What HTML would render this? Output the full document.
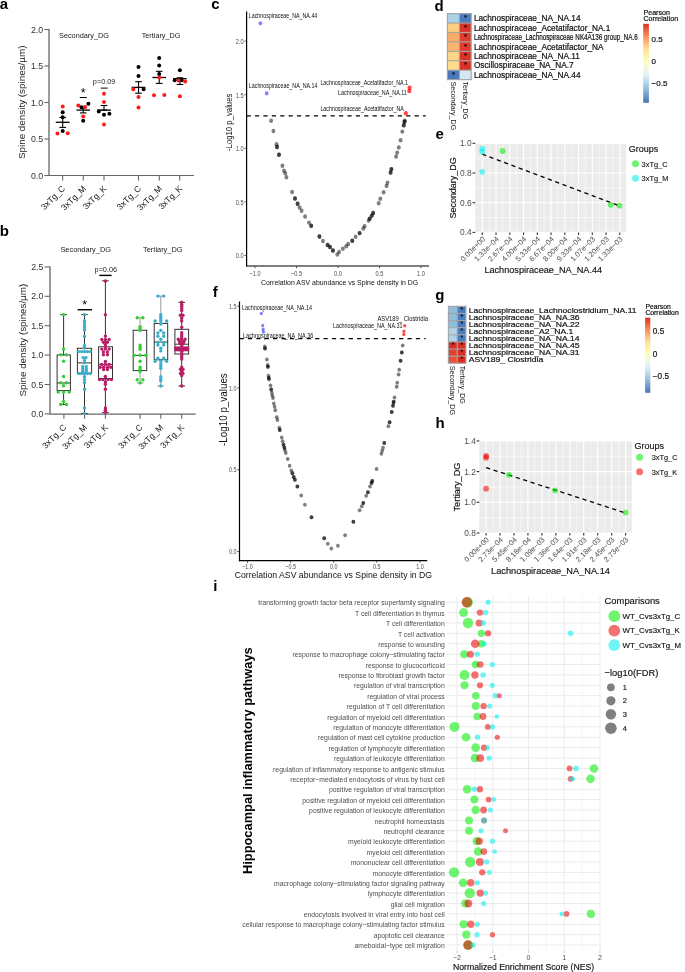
<!DOCTYPE html>
<html><head><meta charset="utf-8"><title>figure</title><style>
html,body{margin:0;padding:0;background:#fff;overflow:hidden;}
svg{display:block;will-change:transform;}
text{font-family:"Liberation Sans",sans-serif;}
</style></head><body>
<svg width="685" height="972" viewBox="0 0 685 972">
<rect width="685" height="972" fill="#fff"/>
<text x="-0.30" y="8.80" font-size="15" font-weight="bold">a</text>
<text x="-0.30" y="235.60" font-size="15" font-weight="bold">b</text>
<text x="211.30" y="8.80" font-size="15" font-weight="bold">c</text>
<text x="434.60" y="10.80" font-size="15" font-weight="bold">d</text>
<text x="435.50" y="139.30" font-size="15" font-weight="bold">e</text>
<text x="212.80" y="296.80" font-size="15" font-weight="bold">f</text>
<text x="435.30" y="299.50" font-size="15" font-weight="bold">g</text>
<text x="435.60" y="427.90" font-size="15" font-weight="bold">h</text>
<text x="213.30" y="591.00" font-size="15" font-weight="bold">i</text>
<line x1="49.00" y1="29.00" x2="49.00" y2="175.00" stroke="#7a7a7a" stroke-width="1.5"/>
<line x1="48.30" y1="175.50" x2="194.00" y2="175.50" stroke="#666666" stroke-width="1.2"/>
<line x1="44.30" y1="175.50" x2="49.00" y2="175.50" stroke="#666666" stroke-width="1.1"/>
<text x="43.20" y="178.62" font-size="8.8" text-anchor="end" fill="#333333">0.0</text>
<line x1="44.30" y1="139.00" x2="49.00" y2="139.00" stroke="#666666" stroke-width="1.1"/>
<text x="43.20" y="142.12" font-size="8.8" text-anchor="end" fill="#333333">0.5</text>
<line x1="44.30" y1="102.50" x2="49.00" y2="102.50" stroke="#666666" stroke-width="1.1"/>
<text x="43.20" y="105.62" font-size="8.8" text-anchor="end" fill="#333333">1.0</text>
<line x1="44.30" y1="66.00" x2="49.00" y2="66.00" stroke="#666666" stroke-width="1.1"/>
<text x="43.20" y="69.12" font-size="8.8" text-anchor="end" fill="#333333">1.5</text>
<line x1="44.30" y1="29.50" x2="49.00" y2="29.50" stroke="#666666" stroke-width="1.1"/>
<text x="43.20" y="32.62" font-size="8.8" text-anchor="end" fill="#333333">2.0</text>
<text x="22.00" y="105.78" font-size="9.8" text-anchor="middle" fill="#222" textLength="113.60" lengthAdjust="spacingAndGlyphs" transform="rotate(-90 22.00 102.30)">Spine density (spines/µm)</text>
<text x="84.00" y="37.79" font-size="7.3" text-anchor="middle" fill="#222" textLength="50.00" lengthAdjust="spacingAndGlyphs">Secondary_DG</text>
<text x="161.00" y="37.99" font-size="7.3" text-anchor="middle" fill="#222" textLength="38.50" lengthAdjust="spacingAndGlyphs">Tertiary_DG</text>
<line x1="62.60" y1="175.50" x2="62.60" y2="180.60" stroke="#666666" stroke-width="1.1"/>
<text x="63.60" y="190.05" font-size="8.6" text-anchor="end" fill="#222" transform="rotate(-45 63.60 187.00)">3xTg_C</text>
<line x1="83.30" y1="175.50" x2="83.30" y2="180.60" stroke="#666666" stroke-width="1.1"/>
<text x="84.30" y="190.05" font-size="8.6" text-anchor="end" fill="#222" transform="rotate(-45 84.30 187.00)">3xTg_M</text>
<line x1="104.00" y1="175.50" x2="104.00" y2="180.60" stroke="#666666" stroke-width="1.1"/>
<text x="105.00" y="190.05" font-size="8.6" text-anchor="end" fill="#222" transform="rotate(-45 105.00 187.00)">3xTg_K</text>
<line x1="138.50" y1="175.50" x2="138.50" y2="180.60" stroke="#666666" stroke-width="1.1"/>
<text x="139.50" y="190.05" font-size="8.6" text-anchor="end" fill="#222" transform="rotate(-45 139.50 187.00)">3xTg_C</text>
<line x1="159.30" y1="175.50" x2="159.30" y2="180.60" stroke="#666666" stroke-width="1.1"/>
<text x="160.30" y="190.05" font-size="8.6" text-anchor="end" fill="#222" transform="rotate(-45 160.30 187.00)">3xTg_M</text>
<line x1="179.70" y1="175.50" x2="179.70" y2="180.60" stroke="#666666" stroke-width="1.1"/>
<text x="180.70" y="190.05" font-size="8.6" text-anchor="end" fill="#222" transform="rotate(-45 180.70 187.00)">3xTg_K</text>
<line x1="55.80" y1="122.30" x2="69.60" y2="122.30" stroke="#000" stroke-width="1.3"/>
<line x1="62.70" y1="117.50" x2="62.70" y2="127.40" stroke="#000" stroke-width="1.1"/>
<line x1="59.40" y1="117.50" x2="66.00" y2="117.50" stroke="#000" stroke-width="1.1"/>
<line x1="59.40" y1="127.40" x2="66.00" y2="127.40" stroke="#000" stroke-width="1.1"/>
<line x1="76.40" y1="110.10" x2="90.00" y2="110.10" stroke="#000" stroke-width="1.3"/>
<line x1="83.20" y1="108.00" x2="83.20" y2="112.90" stroke="#000" stroke-width="1.1"/>
<line x1="79.90" y1="108.00" x2="86.50" y2="108.00" stroke="#000" stroke-width="1.1"/>
<line x1="79.90" y1="112.90" x2="86.50" y2="112.90" stroke="#000" stroke-width="1.1"/>
<line x1="79.80" y1="97.50" x2="86.80" y2="97.50" stroke="#000" stroke-width="1.0"/>
<text x="83.20" y="97.00" font-size="12.5" text-anchor="middle">*</text>
<line x1="97.10" y1="110.10" x2="110.90" y2="110.10" stroke="#000" stroke-width="1.3"/>
<line x1="104.00" y1="105.50" x2="104.00" y2="110.10" stroke="#000" stroke-width="1.1"/>
<line x1="100.70" y1="105.50" x2="107.30" y2="105.50" stroke="#000" stroke-width="1.1"/>
<line x1="100.70" y1="110.10" x2="107.30" y2="110.10" stroke="#000" stroke-width="1.1"/>
<line x1="100.80" y1="88.10" x2="107.70" y2="88.10" stroke="#000" stroke-width="1.0"/>
<text x="104.10" y="83.90" font-size="7.6" text-anchor="middle" fill="#222" textLength="22.50" lengthAdjust="spacingAndGlyphs">p=0.09</text>
<line x1="131.70" y1="87.40" x2="145.30" y2="87.40" stroke="#000" stroke-width="1.3"/>
<line x1="138.50" y1="81.70" x2="138.50" y2="93.20" stroke="#000" stroke-width="1.1"/>
<line x1="135.20" y1="81.70" x2="141.80" y2="81.70" stroke="#000" stroke-width="1.1"/>
<line x1="135.20" y1="93.20" x2="141.80" y2="93.20" stroke="#000" stroke-width="1.1"/>
<line x1="152.40" y1="77.50" x2="166.00" y2="77.50" stroke="#000" stroke-width="1.3"/>
<line x1="159.20" y1="71.30" x2="159.20" y2="83.40" stroke="#000" stroke-width="1.1"/>
<line x1="155.90" y1="71.30" x2="162.50" y2="71.30" stroke="#000" stroke-width="1.1"/>
<line x1="155.90" y1="83.40" x2="162.50" y2="83.40" stroke="#000" stroke-width="1.1"/>
<line x1="173.10" y1="78.70" x2="186.70" y2="78.70" stroke="#000" stroke-width="1.3"/>
<line x1="179.90" y1="77.80" x2="179.90" y2="84.50" stroke="#000" stroke-width="1.1"/>
<line x1="176.60" y1="77.80" x2="183.20" y2="77.80" stroke="#000" stroke-width="1.1"/>
<line x1="176.60" y1="84.50" x2="183.20" y2="84.50" stroke="#000" stroke-width="1.1"/>
<circle cx="62.70" cy="112.30" r="2.00" fill="#000"/>
<circle cx="62.70" cy="117.20" r="2.00" fill="#000"/>
<circle cx="62.70" cy="131.00" r="2.00" fill="#000"/>
<circle cx="81.60" cy="107.30" r="2.00" fill="#000"/>
<circle cx="88.40" cy="103.70" r="2.00" fill="#000"/>
<circle cx="83.20" cy="120.80" r="2.00" fill="#000"/>
<circle cx="98.80" cy="111.60" r="2.00" fill="#000"/>
<circle cx="104.00" cy="114.80" r="2.00" fill="#000"/>
<circle cx="109.40" cy="113.70" r="2.00" fill="#000"/>
<circle cx="138.50" cy="67.00" r="2.00" fill="#000"/>
<circle cx="138.50" cy="76.10" r="2.00" fill="#000"/>
<circle cx="143.60" cy="89.30" r="2.00" fill="#000"/>
<circle cx="159.20" cy="58.00" r="2.00" fill="#000"/>
<circle cx="159.20" cy="65.40" r="2.00" fill="#000"/>
<circle cx="159.20" cy="74.00" r="2.00" fill="#000"/>
<circle cx="179.90" cy="70.30" r="2.00" fill="#000"/>
<circle cx="174.70" cy="80.20" r="2.00" fill="#000"/>
<circle cx="181.60" cy="80.20" r="2.00" fill="#000"/>
<circle cx="62.70" cy="106.60" r="2.00" fill="#ff1a1a"/>
<circle cx="57.50" cy="133.60" r="2.00" fill="#ff1a1a"/>
<circle cx="67.70" cy="133.20" r="2.00" fill="#ff1a1a"/>
<circle cx="78.30" cy="105.40" r="2.00" fill="#ff1a1a"/>
<circle cx="85.10" cy="107.00" r="2.00" fill="#ff1a1a"/>
<circle cx="83.20" cy="116.60" r="2.00" fill="#ff1a1a"/>
<circle cx="104.00" cy="93.70" r="2.00" fill="#ff1a1a"/>
<circle cx="104.00" cy="101.90" r="2.00" fill="#ff1a1a"/>
<circle cx="104.00" cy="124.60" r="2.00" fill="#ff1a1a"/>
<circle cx="133.30" cy="89.30" r="2.00" fill="#ff1a1a"/>
<circle cx="138.50" cy="96.90" r="2.00" fill="#ff1a1a"/>
<circle cx="138.50" cy="107.40" r="2.00" fill="#ff1a1a"/>
<circle cx="159.20" cy="77.50" r="2.00" fill="#ff1a1a"/>
<circle cx="154.00" cy="95.30" r="2.00" fill="#ff1a1a"/>
<circle cx="164.30" cy="95.10" r="2.00" fill="#ff1a1a"/>
<circle cx="178.50" cy="80.50" r="2.00" fill="#ff1a1a"/>
<circle cx="185.20" cy="81.60" r="2.00" fill="#ff1a1a"/>
<circle cx="179.90" cy="96.20" r="2.00" fill="#ff1a1a"/>
<line x1="50.00" y1="266.40" x2="50.00" y2="413.60" stroke="#7a7a7a" stroke-width="1.5"/>
<line x1="49.30" y1="414.10" x2="195.70" y2="414.10" stroke="#666666" stroke-width="1.2"/>
<line x1="44.60" y1="413.90" x2="50.00" y2="413.90" stroke="#666666" stroke-width="1.1"/>
<text x="43.40" y="417.02" font-size="8.8" text-anchor="end" fill="#333333">0.0</text>
<line x1="44.60" y1="384.50" x2="50.00" y2="384.50" stroke="#666666" stroke-width="1.1"/>
<text x="43.40" y="387.62" font-size="8.8" text-anchor="end" fill="#333333">0.5</text>
<line x1="44.60" y1="355.10" x2="50.00" y2="355.10" stroke="#666666" stroke-width="1.1"/>
<text x="43.40" y="358.22" font-size="8.8" text-anchor="end" fill="#333333">1.0</text>
<line x1="44.60" y1="325.70" x2="50.00" y2="325.70" stroke="#666666" stroke-width="1.1"/>
<text x="43.40" y="328.82" font-size="8.8" text-anchor="end" fill="#333333">1.5</text>
<line x1="44.60" y1="296.30" x2="50.00" y2="296.30" stroke="#666666" stroke-width="1.1"/>
<text x="43.40" y="299.42" font-size="8.8" text-anchor="end" fill="#333333">2.0</text>
<line x1="44.60" y1="266.90" x2="50.00" y2="266.90" stroke="#666666" stroke-width="1.1"/>
<text x="43.40" y="270.02" font-size="8.8" text-anchor="end" fill="#333333">2.5</text>
<text x="23.00" y="343.68" font-size="9.8" text-anchor="middle" fill="#222" textLength="112.70" lengthAdjust="spacingAndGlyphs" transform="rotate(-90 23.00 340.20)">Spine density (spines/µm)</text>
<text x="85.70" y="251.99" font-size="7.3" text-anchor="middle" fill="#222" textLength="50.60" lengthAdjust="spacingAndGlyphs">Secondary_DG</text>
<text x="162.80" y="251.99" font-size="7.3" text-anchor="middle" fill="#222" textLength="39.50" lengthAdjust="spacingAndGlyphs">Tertiary_DG</text>
<line x1="63.90" y1="414.10" x2="63.90" y2="418.80" stroke="#666666" stroke-width="1.1"/>
<text x="64.80" y="428.85" font-size="8.6" text-anchor="end" fill="#222" transform="rotate(-45 64.80 425.80)">3xTg_C</text>
<line x1="84.60" y1="414.10" x2="84.60" y2="418.80" stroke="#666666" stroke-width="1.1"/>
<text x="85.50" y="428.85" font-size="8.6" text-anchor="end" fill="#222" transform="rotate(-45 85.50 425.80)">3xTg_M</text>
<line x1="105.40" y1="414.10" x2="105.40" y2="418.80" stroke="#666666" stroke-width="1.1"/>
<text x="106.30" y="428.85" font-size="8.6" text-anchor="end" fill="#222" transform="rotate(-45 106.30 425.80)">3xTg_K</text>
<line x1="140.10" y1="414.10" x2="140.10" y2="418.80" stroke="#666666" stroke-width="1.1"/>
<text x="141.00" y="428.85" font-size="8.6" text-anchor="end" fill="#222" transform="rotate(-45 141.00 425.80)">3xTg_C</text>
<line x1="160.80" y1="414.10" x2="160.80" y2="418.80" stroke="#666666" stroke-width="1.1"/>
<text x="161.70" y="428.85" font-size="8.6" text-anchor="end" fill="#222" transform="rotate(-45 161.70 425.80)">3xTg_M</text>
<line x1="181.70" y1="414.10" x2="181.70" y2="418.80" stroke="#666666" stroke-width="1.1"/>
<text x="182.60" y="428.85" font-size="8.6" text-anchor="end" fill="#222" transform="rotate(-45 182.60 425.80)">3xTg_K</text>
<line x1="63.60" y1="314.60" x2="63.60" y2="355.00" stroke="#333" stroke-width="1.0"/>
<line x1="63.60" y1="390.60" x2="63.60" y2="404.50" stroke="#333" stroke-width="1.0"/>
<line x1="60.30" y1="314.60" x2="66.90" y2="314.60" stroke="#333" stroke-width="1.0"/>
<line x1="60.30" y1="404.50" x2="66.90" y2="404.50" stroke="#333" stroke-width="1.0"/>
<rect x="57.10" y="355.00" width="13.30" height="35.60" fill="none" stroke="#333" stroke-width="1.0"/>
<line x1="57.10" y1="383.00" x2="70.40" y2="383.00" stroke="#333" stroke-width="1.0"/>
<circle cx="63.60" cy="314.60" r="1.70" fill="#2fd12f"/>
<circle cx="63.60" cy="348.90" r="1.70" fill="#2fd12f"/>
<circle cx="60.80" cy="354.80" r="1.70" fill="#2fd12f"/>
<circle cx="66.50" cy="354.80" r="1.70" fill="#2fd12f"/>
<circle cx="63.60" cy="361.20" r="1.70" fill="#2fd12f"/>
<circle cx="63.60" cy="376.50" r="1.70" fill="#2fd12f"/>
<circle cx="60.80" cy="382.80" r="1.70" fill="#2fd12f"/>
<circle cx="66.50" cy="382.80" r="1.70" fill="#2fd12f"/>
<circle cx="63.60" cy="385.80" r="1.70" fill="#2fd12f"/>
<circle cx="58.20" cy="392.10" r="1.70" fill="#2fd12f"/>
<circle cx="63.60" cy="392.10" r="1.70" fill="#2fd12f"/>
<circle cx="69.20" cy="392.10" r="1.70" fill="#2fd12f"/>
<circle cx="63.60" cy="401.50" r="1.70" fill="#2fd12f"/>
<circle cx="60.80" cy="404.50" r="1.70" fill="#2fd12f"/>
<circle cx="66.50" cy="404.50" r="1.70" fill="#2fd12f"/>
<line x1="84.50" y1="314.60" x2="84.50" y2="348.30" stroke="#333" stroke-width="1.0"/>
<line x1="84.50" y1="373.10" x2="84.50" y2="413.50" stroke="#333" stroke-width="1.0"/>
<line x1="81.20" y1="314.60" x2="87.80" y2="314.60" stroke="#333" stroke-width="1.0"/>
<line x1="81.20" y1="413.50" x2="87.80" y2="413.50" stroke="#333" stroke-width="1.0"/>
<rect x="77.40" y="348.30" width="14.20" height="24.80" fill="none" stroke="#333" stroke-width="1.0"/>
<line x1="77.40" y1="362.90" x2="91.60" y2="362.90" stroke="#333" stroke-width="1.0"/>
<circle cx="84.50" cy="314.60" r="1.70" fill="#3aaecb"/>
<circle cx="84.50" cy="320.80" r="1.70" fill="#3aaecb"/>
<circle cx="84.50" cy="323.10" r="1.70" fill="#3aaecb"/>
<circle cx="84.50" cy="325.40" r="1.70" fill="#3aaecb"/>
<circle cx="84.50" cy="327.60" r="1.70" fill="#3aaecb"/>
<circle cx="84.50" cy="329.90" r="1.70" fill="#3aaecb"/>
<circle cx="84.50" cy="336.40" r="1.70" fill="#3aaecb"/>
<circle cx="84.50" cy="345.50" r="1.70" fill="#3aaecb"/>
<circle cx="84.50" cy="348.00" r="1.70" fill="#3aaecb"/>
<circle cx="78.60" cy="351.60" r="1.70" fill="#3aaecb"/>
<circle cx="81.60" cy="351.60" r="1.70" fill="#3aaecb"/>
<circle cx="84.50" cy="351.60" r="1.70" fill="#3aaecb"/>
<circle cx="87.40" cy="351.60" r="1.70" fill="#3aaecb"/>
<circle cx="90.30" cy="351.60" r="1.70" fill="#3aaecb"/>
<circle cx="83.10" cy="357.60" r="1.70" fill="#3aaecb"/>
<circle cx="85.90" cy="357.60" r="1.70" fill="#3aaecb"/>
<circle cx="84.50" cy="360.40" r="1.70" fill="#3aaecb"/>
<circle cx="84.50" cy="362.70" r="1.70" fill="#3aaecb"/>
<circle cx="82.70" cy="366.60" r="1.70" fill="#3aaecb"/>
<circle cx="86.30" cy="366.60" r="1.70" fill="#3aaecb"/>
<circle cx="82.70" cy="368.90" r="1.70" fill="#3aaecb"/>
<circle cx="86.30" cy="368.90" r="1.70" fill="#3aaecb"/>
<circle cx="82.70" cy="371.10" r="1.70" fill="#3aaecb"/>
<circle cx="86.30" cy="371.10" r="1.70" fill="#3aaecb"/>
<circle cx="78.60" cy="373.60" r="1.70" fill="#3aaecb"/>
<circle cx="81.60" cy="373.60" r="1.70" fill="#3aaecb"/>
<circle cx="84.50" cy="373.60" r="1.70" fill="#3aaecb"/>
<circle cx="87.40" cy="373.60" r="1.70" fill="#3aaecb"/>
<circle cx="90.30" cy="373.60" r="1.70" fill="#3aaecb"/>
<circle cx="84.50" cy="376.80" r="1.70" fill="#3aaecb"/>
<circle cx="84.50" cy="379.60" r="1.70" fill="#3aaecb"/>
<circle cx="84.50" cy="382.50" r="1.70" fill="#3aaecb"/>
<circle cx="84.50" cy="389.20" r="1.70" fill="#3aaecb"/>
<circle cx="84.50" cy="407.90" r="1.70" fill="#3aaecb"/>
<circle cx="84.50" cy="413.50" r="1.70" fill="#3aaecb"/>
<line x1="105.40" y1="280.80" x2="105.40" y2="346.80" stroke="#333" stroke-width="1.0"/>
<line x1="105.40" y1="378.50" x2="105.40" y2="412.40" stroke="#333" stroke-width="1.0"/>
<line x1="102.10" y1="280.80" x2="108.70" y2="280.80" stroke="#333" stroke-width="1.0"/>
<line x1="102.10" y1="412.40" x2="108.70" y2="412.40" stroke="#333" stroke-width="1.0"/>
<rect x="98.60" y="346.80" width="13.90" height="31.70" fill="none" stroke="#333" stroke-width="1.0"/>
<line x1="98.60" y1="364.40" x2="112.50" y2="364.40" stroke="#333" stroke-width="1.0"/>
<circle cx="105.40" cy="281.00" r="1.70" fill="#b81f66"/>
<circle cx="105.40" cy="314.80" r="1.70" fill="#b81f66"/>
<circle cx="105.40" cy="336.10" r="1.70" fill="#b81f66"/>
<circle cx="101.80" cy="339.50" r="1.70" fill="#b81f66"/>
<circle cx="105.40" cy="339.50" r="1.70" fill="#b81f66"/>
<circle cx="109.10" cy="339.50" r="1.70" fill="#b81f66"/>
<circle cx="103.40" cy="342.30" r="1.70" fill="#b81f66"/>
<circle cx="107.40" cy="342.30" r="1.70" fill="#b81f66"/>
<circle cx="105.40" cy="344.60" r="1.70" fill="#b81f66"/>
<circle cx="105.40" cy="346.60" r="1.70" fill="#b81f66"/>
<circle cx="101.80" cy="349.10" r="1.70" fill="#b81f66"/>
<circle cx="105.40" cy="349.10" r="1.70" fill="#b81f66"/>
<circle cx="109.10" cy="349.10" r="1.70" fill="#b81f66"/>
<circle cx="103.40" cy="351.90" r="1.70" fill="#b81f66"/>
<circle cx="107.40" cy="351.90" r="1.70" fill="#b81f66"/>
<circle cx="103.40" cy="354.80" r="1.70" fill="#b81f66"/>
<circle cx="107.40" cy="354.80" r="1.70" fill="#b81f66"/>
<circle cx="105.40" cy="361.50" r="1.70" fill="#b81f66"/>
<circle cx="101.80" cy="364.40" r="1.70" fill="#b81f66"/>
<circle cx="105.40" cy="364.40" r="1.70" fill="#b81f66"/>
<circle cx="109.10" cy="364.40" r="1.70" fill="#b81f66"/>
<circle cx="100.10" cy="367.20" r="1.70" fill="#b81f66"/>
<circle cx="103.60" cy="367.20" r="1.70" fill="#b81f66"/>
<circle cx="107.40" cy="367.20" r="1.70" fill="#b81f66"/>
<circle cx="110.80" cy="367.20" r="1.70" fill="#b81f66"/>
<circle cx="103.60" cy="369.50" r="1.70" fill="#b81f66"/>
<circle cx="107.40" cy="369.50" r="1.70" fill="#b81f66"/>
<circle cx="105.40" cy="376.50" r="1.70" fill="#b81f66"/>
<circle cx="99.60" cy="379.60" r="1.70" fill="#b81f66"/>
<circle cx="102.90" cy="379.60" r="1.70" fill="#b81f66"/>
<circle cx="108.00" cy="379.60" r="1.70" fill="#b81f66"/>
<circle cx="111.40" cy="379.60" r="1.70" fill="#b81f66"/>
<circle cx="105.40" cy="381.90" r="1.70" fill="#b81f66"/>
<circle cx="105.40" cy="384.20" r="1.70" fill="#b81f66"/>
<circle cx="105.40" cy="389.20" r="1.70" fill="#b81f66"/>
<circle cx="105.40" cy="407.90" r="1.70" fill="#b81f66"/>
<circle cx="105.40" cy="410.20" r="1.70" fill="#b81f66"/>
<circle cx="105.40" cy="412.40" r="1.70" fill="#b81f66"/>
<line x1="77.60" y1="309.70" x2="92.00" y2="309.70" stroke="#000" stroke-width="1.4"/>
<text x="84.60" y="308.90" font-size="12.5" text-anchor="middle">*</text>
<line x1="99.30" y1="275.40" x2="111.60" y2="275.40" stroke="#000" stroke-width="1.4"/>
<text x="105.80" y="272.30" font-size="7.6" text-anchor="middle" fill="#222" textLength="22.40" lengthAdjust="spacingAndGlyphs">p=0.06</text>
<line x1="140.10" y1="317.80" x2="140.10" y2="330.20" stroke="#999" stroke-width="1.0"/>
<line x1="140.10" y1="370.60" x2="140.10" y2="382.90" stroke="#999" stroke-width="1.0"/>
<line x1="136.80" y1="317.80" x2="143.40" y2="317.80" stroke="#999" stroke-width="1.0"/>
<line x1="136.80" y1="382.90" x2="143.40" y2="382.90" stroke="#999" stroke-width="1.0"/>
<rect x="133.20" y="330.20" width="13.50" height="40.40" fill="none" stroke="#333" stroke-width="1.0"/>
<line x1="133.20" y1="355.40" x2="146.70" y2="355.40" stroke="#333" stroke-width="1.0"/>
<circle cx="137.20" cy="317.80" r="1.70" fill="#2fd12f"/>
<circle cx="142.90" cy="317.80" r="1.70" fill="#2fd12f"/>
<circle cx="140.10" cy="326.70" r="1.70" fill="#2fd12f"/>
<circle cx="140.10" cy="328.30" r="1.70" fill="#2fd12f"/>
<circle cx="140.10" cy="330.40" r="1.70" fill="#2fd12f"/>
<circle cx="140.10" cy="345.10" r="1.70" fill="#2fd12f"/>
<circle cx="140.10" cy="347.20" r="1.70" fill="#2fd12f"/>
<circle cx="140.10" cy="349.30" r="1.70" fill="#2fd12f"/>
<circle cx="134.10" cy="355.30" r="1.70" fill="#2fd12f"/>
<circle cx="140.10" cy="355.30" r="1.70" fill="#2fd12f"/>
<circle cx="145.80" cy="355.30" r="1.70" fill="#2fd12f"/>
<circle cx="140.10" cy="361.30" r="1.70" fill="#2fd12f"/>
<circle cx="140.10" cy="367.10" r="1.70" fill="#2fd12f"/>
<circle cx="140.10" cy="369.20" r="1.70" fill="#2fd12f"/>
<circle cx="140.10" cy="371.30" r="1.70" fill="#2fd12f"/>
<circle cx="137.20" cy="379.70" r="1.70" fill="#2fd12f"/>
<circle cx="142.90" cy="379.70" r="1.70" fill="#2fd12f"/>
<circle cx="140.10" cy="382.90" r="1.70" fill="#2fd12f"/>
<line x1="160.80" y1="296.10" x2="160.80" y2="323.40" stroke="#999" stroke-width="1.0"/>
<line x1="160.80" y1="359.80" x2="160.80" y2="386.00" stroke="#999" stroke-width="1.0"/>
<line x1="157.50" y1="296.10" x2="164.10" y2="296.10" stroke="#999" stroke-width="1.0"/>
<line x1="157.50" y1="386.00" x2="164.10" y2="386.00" stroke="#999" stroke-width="1.0"/>
<rect x="154.20" y="323.40" width="13.50" height="36.40" fill="none" stroke="#333" stroke-width="1.0"/>
<line x1="154.20" y1="342.10" x2="167.70" y2="342.10" stroke="#333" stroke-width="1.0"/>
<circle cx="157.90" cy="296.10" r="1.70" fill="#3aaecb"/>
<circle cx="163.70" cy="296.10" r="1.70" fill="#3aaecb"/>
<circle cx="160.80" cy="314.70" r="1.70" fill="#3aaecb"/>
<circle cx="160.80" cy="316.80" r="1.70" fill="#3aaecb"/>
<circle cx="160.80" cy="318.90" r="1.70" fill="#3aaecb"/>
<circle cx="155.10" cy="321.00" r="1.70" fill="#3aaecb"/>
<circle cx="160.80" cy="321.00" r="1.70" fill="#3aaecb"/>
<circle cx="166.60" cy="321.00" r="1.70" fill="#3aaecb"/>
<circle cx="160.80" cy="324.10" r="1.70" fill="#3aaecb"/>
<circle cx="160.80" cy="330.40" r="1.70" fill="#3aaecb"/>
<circle cx="157.90" cy="333.00" r="1.70" fill="#3aaecb"/>
<circle cx="163.70" cy="333.00" r="1.70" fill="#3aaecb"/>
<circle cx="157.90" cy="336.20" r="1.70" fill="#3aaecb"/>
<circle cx="163.70" cy="336.20" r="1.70" fill="#3aaecb"/>
<circle cx="160.80" cy="339.30" r="1.70" fill="#3aaecb"/>
<circle cx="157.90" cy="342.50" r="1.70" fill="#3aaecb"/>
<circle cx="163.70" cy="342.50" r="1.70" fill="#3aaecb"/>
<circle cx="157.90" cy="345.10" r="1.70" fill="#3aaecb"/>
<circle cx="163.70" cy="345.10" r="1.70" fill="#3aaecb"/>
<circle cx="160.80" cy="348.20" r="1.70" fill="#3aaecb"/>
<circle cx="160.80" cy="350.90" r="1.70" fill="#3aaecb"/>
<circle cx="157.90" cy="358.20" r="1.70" fill="#3aaecb"/>
<circle cx="163.70" cy="358.20" r="1.70" fill="#3aaecb"/>
<circle cx="155.10" cy="361.30" r="1.70" fill="#3aaecb"/>
<circle cx="160.80" cy="361.30" r="1.70" fill="#3aaecb"/>
<circle cx="166.60" cy="361.30" r="1.70" fill="#3aaecb"/>
<circle cx="160.80" cy="364.00" r="1.70" fill="#3aaecb"/>
<circle cx="160.80" cy="366.10" r="1.70" fill="#3aaecb"/>
<circle cx="160.80" cy="368.20" r="1.70" fill="#3aaecb"/>
<circle cx="160.80" cy="376.60" r="1.70" fill="#3aaecb"/>
<circle cx="160.80" cy="378.70" r="1.70" fill="#3aaecb"/>
<circle cx="160.80" cy="380.80" r="1.70" fill="#3aaecb"/>
<circle cx="160.80" cy="386.00" r="1.70" fill="#3aaecb"/>
<line x1="181.70" y1="302.40" x2="181.70" y2="329.30" stroke="#333" stroke-width="1.0"/>
<line x1="181.70" y1="354.00" x2="181.70" y2="386.00" stroke="#333" stroke-width="1.0"/>
<line x1="178.40" y1="302.40" x2="185.00" y2="302.40" stroke="#333" stroke-width="1.0"/>
<line x1="178.40" y1="386.00" x2="185.00" y2="386.00" stroke="#333" stroke-width="1.0"/>
<rect x="174.90" y="329.30" width="13.70" height="24.70" fill="none" stroke="#333" stroke-width="1.0"/>
<line x1="174.90" y1="344.20" x2="188.60" y2="344.20" stroke="#333" stroke-width="1.0"/>
<circle cx="181.70" cy="302.10" r="1.70" fill="#b81f66"/>
<circle cx="181.70" cy="304.20" r="1.70" fill="#b81f66"/>
<circle cx="181.70" cy="306.30" r="1.70" fill="#b81f66"/>
<circle cx="181.70" cy="308.40" r="1.70" fill="#b81f66"/>
<circle cx="181.70" cy="310.50" r="1.70" fill="#b81f66"/>
<circle cx="180.40" cy="315.20" r="1.70" fill="#b81f66"/>
<circle cx="183.00" cy="315.20" r="1.70" fill="#b81f66"/>
<circle cx="181.70" cy="318.30" r="1.70" fill="#b81f66"/>
<circle cx="181.70" cy="321.00" r="1.70" fill="#b81f66"/>
<circle cx="181.70" cy="327.20" r="1.70" fill="#b81f66"/>
<circle cx="181.70" cy="332.60" r="1.70" fill="#b81f66"/>
<circle cx="181.70" cy="334.80" r="1.70" fill="#b81f66"/>
<circle cx="181.70" cy="337.00" r="1.70" fill="#b81f66"/>
<circle cx="178.30" cy="339.30" r="1.70" fill="#b81f66"/>
<circle cx="181.70" cy="339.30" r="1.70" fill="#b81f66"/>
<circle cx="185.10" cy="339.30" r="1.70" fill="#b81f66"/>
<circle cx="179.50" cy="341.50" r="1.70" fill="#b81f66"/>
<circle cx="183.90" cy="341.50" r="1.70" fill="#b81f66"/>
<circle cx="181.70" cy="342.30" r="1.70" fill="#b81f66"/>
<circle cx="180.20" cy="343.30" r="1.70" fill="#b81f66"/>
<circle cx="183.20" cy="343.30" r="1.70" fill="#b81f66"/>
<circle cx="181.70" cy="345.60" r="1.70" fill="#b81f66"/>
<circle cx="175.80" cy="347.90" r="1.70" fill="#b81f66"/>
<circle cx="177.80" cy="347.90" r="1.70" fill="#b81f66"/>
<circle cx="179.70" cy="347.90" r="1.70" fill="#b81f66"/>
<circle cx="181.70" cy="347.90" r="1.70" fill="#b81f66"/>
<circle cx="183.70" cy="347.90" r="1.70" fill="#b81f66"/>
<circle cx="185.60" cy="347.90" r="1.70" fill="#b81f66"/>
<circle cx="187.60" cy="347.90" r="1.70" fill="#b81f66"/>
<circle cx="175.80" cy="348.90" r="1.70" fill="#b81f66"/>
<circle cx="177.80" cy="348.90" r="1.70" fill="#b81f66"/>
<circle cx="179.70" cy="348.90" r="1.70" fill="#b81f66"/>
<circle cx="181.70" cy="348.90" r="1.70" fill="#b81f66"/>
<circle cx="183.70" cy="348.90" r="1.70" fill="#b81f66"/>
<circle cx="185.60" cy="348.90" r="1.70" fill="#b81f66"/>
<circle cx="187.60" cy="348.90" r="1.70" fill="#b81f66"/>
<circle cx="175.80" cy="349.80" r="1.70" fill="#b81f66"/>
<circle cx="177.80" cy="349.80" r="1.70" fill="#b81f66"/>
<circle cx="179.70" cy="349.80" r="1.70" fill="#b81f66"/>
<circle cx="181.70" cy="349.80" r="1.70" fill="#b81f66"/>
<circle cx="183.70" cy="349.80" r="1.70" fill="#b81f66"/>
<circle cx="185.60" cy="349.80" r="1.70" fill="#b81f66"/>
<circle cx="187.60" cy="349.80" r="1.70" fill="#b81f66"/>
<circle cx="181.70" cy="351.60" r="1.70" fill="#b81f66"/>
<circle cx="181.70" cy="353.60" r="1.70" fill="#b81f66"/>
<circle cx="181.70" cy="355.60" r="1.70" fill="#b81f66"/>
<circle cx="181.70" cy="357.50" r="1.70" fill="#b81f66"/>
<circle cx="181.70" cy="359.10" r="1.70" fill="#b81f66"/>
<circle cx="181.70" cy="367.10" r="1.70" fill="#b81f66"/>
<circle cx="180.50" cy="369.20" r="1.70" fill="#b81f66"/>
<circle cx="183.00" cy="369.20" r="1.70" fill="#b81f66"/>
<circle cx="181.70" cy="371.30" r="1.70" fill="#b81f66"/>
<circle cx="180.50" cy="373.40" r="1.70" fill="#b81f66"/>
<circle cx="183.00" cy="373.40" r="1.70" fill="#b81f66"/>
<circle cx="181.70" cy="375.50" r="1.70" fill="#b81f66"/>
<circle cx="181.70" cy="386.00" r="1.70" fill="#b81f66"/>
<line x1="246.60" y1="11.60" x2="246.60" y2="266.60" stroke="#000" stroke-width="1.2"/>
<line x1="246.00" y1="266.00" x2="429.00" y2="266.00" stroke="#000" stroke-width="1.2"/>
<line x1="244.40" y1="255.50" x2="246.60" y2="255.50" stroke="#333" stroke-width="0.8"/>
<text x="243.60" y="258.38" font-size="8.12" text-anchor="end" fill="#4d4d4d" textLength="7.78" lengthAdjust="spacingAndGlyphs">0.0</text>
<line x1="244.40" y1="201.90" x2="246.60" y2="201.90" stroke="#333" stroke-width="0.8"/>
<text x="243.60" y="204.78" font-size="8.12" text-anchor="end" fill="#4d4d4d" textLength="7.78" lengthAdjust="spacingAndGlyphs">0.5</text>
<line x1="244.40" y1="148.30" x2="246.60" y2="148.30" stroke="#333" stroke-width="0.8"/>
<text x="243.60" y="151.18" font-size="8.12" text-anchor="end" fill="#4d4d4d" textLength="7.78" lengthAdjust="spacingAndGlyphs">1.0</text>
<line x1="244.40" y1="94.70" x2="246.60" y2="94.70" stroke="#333" stroke-width="0.8"/>
<text x="243.60" y="97.58" font-size="8.12" text-anchor="end" fill="#4d4d4d" textLength="7.78" lengthAdjust="spacingAndGlyphs">1.5</text>
<line x1="244.40" y1="41.10" x2="246.60" y2="41.10" stroke="#333" stroke-width="0.8"/>
<text x="243.60" y="43.98" font-size="8.12" text-anchor="end" fill="#4d4d4d" textLength="7.78" lengthAdjust="spacingAndGlyphs">2.0</text>
<line x1="255.00" y1="266.00" x2="255.00" y2="268.20" stroke="#333" stroke-width="0.8"/>
<text x="255.00" y="275.78" font-size="7.56" text-anchor="middle" fill="#4d4d4d" textLength="11.05" lengthAdjust="spacingAndGlyphs">−1.0</text>
<line x1="296.50" y1="266.00" x2="296.50" y2="268.20" stroke="#333" stroke-width="0.8"/>
<text x="296.50" y="275.78" font-size="7.56" text-anchor="middle" fill="#4d4d4d" textLength="11.05" lengthAdjust="spacingAndGlyphs">−0.5</text>
<line x1="338.00" y1="266.00" x2="338.00" y2="268.20" stroke="#333" stroke-width="0.8"/>
<text x="338.00" y="275.78" font-size="7.56" text-anchor="middle" fill="#4d4d4d" textLength="7.78" lengthAdjust="spacingAndGlyphs">0.0</text>
<line x1="379.50" y1="266.00" x2="379.50" y2="268.20" stroke="#333" stroke-width="0.8"/>
<text x="379.50" y="275.78" font-size="7.56" text-anchor="middle" fill="#4d4d4d" textLength="7.78" lengthAdjust="spacingAndGlyphs">0.5</text>
<line x1="421.00" y1="266.00" x2="421.00" y2="268.20" stroke="#333" stroke-width="0.8"/>
<text x="421.00" y="275.78" font-size="7.56" text-anchor="middle" fill="#4d4d4d" textLength="7.78" lengthAdjust="spacingAndGlyphs">1.0</text>
<line x1="246.60" y1="115.90" x2="425.70" y2="115.90" stroke="#000" stroke-width="1.2" stroke-dasharray="4.2 4.2"/>
<text x="339.60" y="284.96" font-size="7.2" text-anchor="middle" fill="#111" textLength="157.30" lengthAdjust="spacingAndGlyphs">Correlation ASV abundance vs Spine density in DG</text>
<text x="229.30" y="125.28" font-size="8.4" text-anchor="middle" fill="#111" textLength="57.40" lengthAdjust="spacingAndGlyphs" transform="rotate(-90 229.30 122.30)">-Log10 p_values</text>
<ellipse cx="271.10" cy="120.80" rx="1.95" ry="2.2" fill="#000" fill-opacity="0.5"/>
<ellipse cx="273.40" cy="131.00" rx="1.95" ry="2.2" fill="#000" fill-opacity="0.5"/>
<ellipse cx="276.50" cy="144.30" rx="1.95" ry="2.2" fill="#000" fill-opacity="0.5"/>
<ellipse cx="277.00" cy="147.00" rx="1.95" ry="2.2" fill="#000" fill-opacity="0.5"/>
<ellipse cx="277.00" cy="147.00" rx="1.95" ry="2.2" fill="#000" fill-opacity="0.5"/>
<ellipse cx="279.00" cy="154.80" rx="1.95" ry="2.2" fill="#000" fill-opacity="0.5"/>
<ellipse cx="279.00" cy="154.80" rx="1.95" ry="2.2" fill="#000" fill-opacity="0.5"/>
<ellipse cx="282.40" cy="165.70" rx="1.95" ry="2.2" fill="#000" fill-opacity="0.5"/>
<ellipse cx="284.00" cy="170.80" rx="1.95" ry="2.2" fill="#000" fill-opacity="0.5"/>
<ellipse cx="285.30" cy="173.30" rx="1.95" ry="2.2" fill="#000" fill-opacity="0.5"/>
<ellipse cx="286.40" cy="177.30" rx="1.95" ry="2.2" fill="#000" fill-opacity="0.5"/>
<ellipse cx="292.10" cy="192.00" rx="1.95" ry="2.2" fill="#000" fill-opacity="0.5"/>
<ellipse cx="295.00" cy="198.50" rx="1.95" ry="2.2" fill="#000" fill-opacity="0.5"/>
<ellipse cx="295.00" cy="198.50" rx="1.95" ry="2.2" fill="#000" fill-opacity="0.5"/>
<ellipse cx="297.60" cy="203.80" rx="1.95" ry="2.2" fill="#000" fill-opacity="0.5"/>
<ellipse cx="297.60" cy="203.80" rx="1.95" ry="2.2" fill="#000" fill-opacity="0.5"/>
<ellipse cx="299.60" cy="207.50" rx="1.95" ry="2.2" fill="#000" fill-opacity="0.5"/>
<ellipse cx="301.60" cy="210.70" rx="1.95" ry="2.2" fill="#000" fill-opacity="0.5"/>
<ellipse cx="305.10" cy="216.50" rx="1.95" ry="2.2" fill="#000" fill-opacity="0.5"/>
<ellipse cx="309.00" cy="222.60" rx="1.95" ry="2.2" fill="#000" fill-opacity="0.5"/>
<ellipse cx="311.20" cy="225.70" rx="1.95" ry="2.2" fill="#000" fill-opacity="0.5"/>
<ellipse cx="311.20" cy="225.70" rx="1.95" ry="2.2" fill="#000" fill-opacity="0.5"/>
<ellipse cx="319.40" cy="236.50" rx="1.95" ry="2.2" fill="#000" fill-opacity="0.5"/>
<ellipse cx="319.40" cy="236.50" rx="1.95" ry="2.2" fill="#000" fill-opacity="0.5"/>
<ellipse cx="322.90" cy="241.00" rx="1.95" ry="2.2" fill="#000" fill-opacity="0.5"/>
<ellipse cx="327.60" cy="245.00" rx="1.95" ry="2.2" fill="#000" fill-opacity="0.5"/>
<ellipse cx="327.60" cy="245.00" rx="1.95" ry="2.2" fill="#000" fill-opacity="0.5"/>
<ellipse cx="330.00" cy="247.00" rx="1.95" ry="2.2" fill="#000" fill-opacity="0.5"/>
<ellipse cx="330.00" cy="247.00" rx="1.95" ry="2.2" fill="#000" fill-opacity="0.5"/>
<ellipse cx="332.90" cy="250.50" rx="1.95" ry="2.2" fill="#000" fill-opacity="0.5"/>
<ellipse cx="332.90" cy="250.50" rx="1.95" ry="2.2" fill="#000" fill-opacity="0.5"/>
<ellipse cx="337.30" cy="254.50" rx="1.95" ry="2.2" fill="#000" fill-opacity="0.5"/>
<ellipse cx="339.10" cy="252.00" rx="1.95" ry="2.2" fill="#000" fill-opacity="0.5"/>
<ellipse cx="342.90" cy="248.70" rx="1.95" ry="2.2" fill="#000" fill-opacity="0.5"/>
<ellipse cx="346.20" cy="246.20" rx="1.95" ry="2.2" fill="#000" fill-opacity="0.5"/>
<ellipse cx="348.20" cy="244.00" rx="1.95" ry="2.2" fill="#000" fill-opacity="0.5"/>
<ellipse cx="352.30" cy="240.80" rx="1.95" ry="2.2" fill="#000" fill-opacity="0.5"/>
<ellipse cx="352.30" cy="240.80" rx="1.95" ry="2.2" fill="#000" fill-opacity="0.5"/>
<ellipse cx="355.60" cy="236.70" rx="1.95" ry="2.2" fill="#000" fill-opacity="0.5"/>
<ellipse cx="359.60" cy="233.10" rx="1.95" ry="2.2" fill="#000" fill-opacity="0.5"/>
<ellipse cx="359.60" cy="233.10" rx="1.95" ry="2.2" fill="#000" fill-opacity="0.5"/>
<ellipse cx="363.30" cy="228.50" rx="1.95" ry="2.2" fill="#000" fill-opacity="0.5"/>
<ellipse cx="364.60" cy="226.20" rx="1.95" ry="2.2" fill="#000" fill-opacity="0.5"/>
<ellipse cx="368.60" cy="220.60" rx="1.95" ry="2.2" fill="#000" fill-opacity="0.5"/>
<ellipse cx="369.70" cy="218.60" rx="1.95" ry="2.2" fill="#000" fill-opacity="0.5"/>
<ellipse cx="369.70" cy="218.60" rx="1.95" ry="2.2" fill="#000" fill-opacity="0.5"/>
<ellipse cx="371.80" cy="215.60" rx="1.95" ry="2.2" fill="#000" fill-opacity="0.5"/>
<ellipse cx="371.80" cy="215.60" rx="1.95" ry="2.2" fill="#000" fill-opacity="0.5"/>
<ellipse cx="373.20" cy="212.90" rx="1.95" ry="2.2" fill="#000" fill-opacity="0.5"/>
<ellipse cx="373.20" cy="212.90" rx="1.95" ry="2.2" fill="#000" fill-opacity="0.5"/>
<ellipse cx="378.70" cy="203.20" rx="1.95" ry="2.2" fill="#000" fill-opacity="0.5"/>
<ellipse cx="380.30" cy="198.80" rx="1.95" ry="2.2" fill="#000" fill-opacity="0.5"/>
<ellipse cx="383.60" cy="192.30" rx="1.95" ry="2.2" fill="#000" fill-opacity="0.5"/>
<ellipse cx="386.50" cy="185.90" rx="1.95" ry="2.2" fill="#000" fill-opacity="0.5"/>
<ellipse cx="387.50" cy="182.70" rx="1.95" ry="2.2" fill="#000" fill-opacity="0.5"/>
<ellipse cx="390.60" cy="172.50" rx="1.95" ry="2.2" fill="#000" fill-opacity="0.5"/>
<ellipse cx="390.60" cy="172.50" rx="1.95" ry="2.2" fill="#000" fill-opacity="0.5"/>
<ellipse cx="391.40" cy="169.10" rx="1.95" ry="2.2" fill="#000" fill-opacity="0.5"/>
<ellipse cx="391.40" cy="169.10" rx="1.95" ry="2.2" fill="#000" fill-opacity="0.5"/>
<ellipse cx="396.10" cy="156.50" rx="1.95" ry="2.2" fill="#000" fill-opacity="0.5"/>
<ellipse cx="397.20" cy="152.60" rx="1.95" ry="2.2" fill="#000" fill-opacity="0.5"/>
<ellipse cx="398.80" cy="147.40" rx="1.95" ry="2.2" fill="#000" fill-opacity="0.5"/>
<ellipse cx="400.60" cy="140.30" rx="1.95" ry="2.2" fill="#000" fill-opacity="0.5"/>
<ellipse cx="402.30" cy="131.60" rx="1.95" ry="2.2" fill="#000" fill-opacity="0.5"/>
<ellipse cx="403.80" cy="125.30" rx="1.95" ry="2.2" fill="#000" fill-opacity="0.5"/>
<ellipse cx="403.80" cy="125.30" rx="1.95" ry="2.2" fill="#000" fill-opacity="0.5"/>
<ellipse cx="404.50" cy="121.70" rx="1.95" ry="2.2" fill="#000" fill-opacity="0.5"/>
<ellipse cx="404.50" cy="121.70" rx="1.95" ry="2.2" fill="#000" fill-opacity="0.5"/>
<ellipse cx="404.80" cy="120.60" rx="1.95" ry="2.2" fill="#000" fill-opacity="0.5"/>
<ellipse cx="260.40" cy="23.30" rx="1.8" ry="2.1" fill="#0000ff" fill-opacity="0.5"/>
<ellipse cx="266.70" cy="93.40" rx="1.8" ry="2.1" fill="#0000ff" fill-opacity="0.5"/>
<ellipse cx="409.60" cy="87.70" rx="2.1" ry="2.3" fill="#ff0000" fill-opacity="0.72"/>
<ellipse cx="409.30" cy="91.00" rx="2.1" ry="2.3" fill="#ff0000" fill-opacity="0.72"/>
<ellipse cx="405.80" cy="113.20" rx="2.1" ry="2.3" fill="#ff0000" fill-opacity="0.72"/>
<text x="248.80" y="18.45" font-size="6.9" fill="#111" textLength="68.50" lengthAdjust="spacingAndGlyphs">Lachnospiraceae_NA_NA.44</text>
<text x="248.80" y="87.85" font-size="6.9" fill="#111" textLength="68.70" lengthAdjust="spacingAndGlyphs">Lachnospiraceae_NA_NA.14</text>
<text x="320.40" y="85.35" font-size="6.9" fill="#111" textLength="87.60" lengthAdjust="spacingAndGlyphs">Lachnospiraceae_Acetatifactor_NA.1</text>
<text x="338.00" y="95.25" font-size="6.9" fill="#111" textLength="68.80" lengthAdjust="spacingAndGlyphs">Lachnospiraceae_NA_NA.11</text>
<text x="320.40" y="110.65" font-size="6.9" fill="#111" textLength="83.50" lengthAdjust="spacingAndGlyphs">Lachnospiraceae_Acetatifactor_NA</text>
<line x1="239.50" y1="301.60" x2="239.50" y2="561.30" stroke="#000" stroke-width="1.2"/>
<line x1="238.90" y1="560.70" x2="427.30" y2="560.70" stroke="#000" stroke-width="1.2"/>
<line x1="237.30" y1="551.50" x2="239.50" y2="551.50" stroke="#333" stroke-width="0.8"/>
<text x="236.60" y="554.28" font-size="7.83" text-anchor="end" fill="#4d4d4d" textLength="7.51" lengthAdjust="spacingAndGlyphs">0.0</text>
<line x1="237.30" y1="469.70" x2="239.50" y2="469.70" stroke="#333" stroke-width="0.8"/>
<text x="236.60" y="472.48" font-size="7.83" text-anchor="end" fill="#4d4d4d" textLength="7.51" lengthAdjust="spacingAndGlyphs">0.5</text>
<line x1="237.30" y1="387.90" x2="239.50" y2="387.90" stroke="#333" stroke-width="0.8"/>
<text x="236.60" y="390.68" font-size="7.83" text-anchor="end" fill="#4d4d4d" textLength="7.51" lengthAdjust="spacingAndGlyphs">1.0</text>
<line x1="237.30" y1="306.10" x2="239.50" y2="306.10" stroke="#333" stroke-width="0.8"/>
<text x="236.60" y="308.88" font-size="7.83" text-anchor="end" fill="#4d4d4d" textLength="7.51" lengthAdjust="spacingAndGlyphs">1.5</text>
<line x1="247.50" y1="560.70" x2="247.50" y2="562.90" stroke="#333" stroke-width="0.8"/>
<text x="247.50" y="568.79" font-size="7.290000000000001" text-anchor="middle" fill="#4d4d4d" textLength="10.66" lengthAdjust="spacingAndGlyphs">−1.0</text>
<line x1="290.60" y1="560.70" x2="290.60" y2="562.90" stroke="#333" stroke-width="0.8"/>
<text x="290.60" y="568.79" font-size="7.290000000000001" text-anchor="middle" fill="#4d4d4d" textLength="10.66" lengthAdjust="spacingAndGlyphs">−0.5</text>
<line x1="333.70" y1="560.70" x2="333.70" y2="562.90" stroke="#333" stroke-width="0.8"/>
<text x="333.70" y="568.79" font-size="7.290000000000001" text-anchor="middle" fill="#4d4d4d" textLength="7.51" lengthAdjust="spacingAndGlyphs">0.0</text>
<line x1="376.80" y1="560.70" x2="376.80" y2="562.90" stroke="#333" stroke-width="0.8"/>
<text x="376.80" y="568.79" font-size="7.290000000000001" text-anchor="middle" fill="#4d4d4d" textLength="7.51" lengthAdjust="spacingAndGlyphs">0.5</text>
<line x1="419.90" y1="560.70" x2="419.90" y2="562.90" stroke="#333" stroke-width="0.8"/>
<text x="419.90" y="568.79" font-size="7.290000000000001" text-anchor="middle" fill="#4d4d4d" textLength="7.51" lengthAdjust="spacingAndGlyphs">1.0</text>
<line x1="239.50" y1="338.60" x2="425.70" y2="338.60" stroke="#000" stroke-width="1.2" stroke-dasharray="4.2 4.2"/>
<text x="333.40" y="578.02" font-size="8.8" text-anchor="middle" fill="#111" textLength="197.50" lengthAdjust="spacingAndGlyphs">Correlation ASV abundance vs Spine density in DG</text>
<text x="222.90" y="413.22" font-size="10.2" text-anchor="middle" fill="#111" textLength="72.80" lengthAdjust="spacingAndGlyphs" transform="rotate(-90 222.90 409.60)">-Log10 p_values</text>
<ellipse cx="264.80" cy="346.50" rx="1.85" ry="2.0" fill="#000" fill-opacity="0.5"/>
<ellipse cx="265.00" cy="348.60" rx="1.85" ry="2.0" fill="#000" fill-opacity="0.5"/>
<ellipse cx="265.00" cy="348.60" rx="1.85" ry="2.0" fill="#000" fill-opacity="0.5"/>
<ellipse cx="266.90" cy="359.50" rx="1.85" ry="2.0" fill="#000" fill-opacity="0.5"/>
<ellipse cx="267.70" cy="365.10" rx="1.85" ry="2.0" fill="#000" fill-opacity="0.5"/>
<ellipse cx="267.90" cy="366.70" rx="1.85" ry="2.0" fill="#000" fill-opacity="0.5"/>
<ellipse cx="267.90" cy="366.70" rx="1.85" ry="2.0" fill="#000" fill-opacity="0.5"/>
<ellipse cx="268.50" cy="375.70" rx="1.85" ry="2.0" fill="#000" fill-opacity="0.5"/>
<ellipse cx="268.80" cy="378.00" rx="1.85" ry="2.0" fill="#000" fill-opacity="0.5"/>
<ellipse cx="268.80" cy="378.00" rx="1.85" ry="2.0" fill="#000" fill-opacity="0.5"/>
<ellipse cx="269.10" cy="379.50" rx="1.85" ry="2.0" fill="#000" fill-opacity="0.5"/>
<ellipse cx="270.50" cy="385.40" rx="1.85" ry="2.0" fill="#000" fill-opacity="0.5"/>
<ellipse cx="271.20" cy="389.60" rx="1.85" ry="2.0" fill="#000" fill-opacity="0.5"/>
<ellipse cx="271.20" cy="389.60" rx="1.85" ry="2.0" fill="#000" fill-opacity="0.5"/>
<ellipse cx="271.90" cy="392.70" rx="1.85" ry="2.0" fill="#000" fill-opacity="0.5"/>
<ellipse cx="272.30" cy="395.50" rx="1.85" ry="2.0" fill="#000" fill-opacity="0.5"/>
<ellipse cx="273.00" cy="397.90" rx="1.85" ry="2.0" fill="#000" fill-opacity="0.5"/>
<ellipse cx="273.80" cy="403.40" rx="1.85" ry="2.0" fill="#000" fill-opacity="0.5"/>
<ellipse cx="274.60" cy="406.80" rx="1.85" ry="2.0" fill="#000" fill-opacity="0.5"/>
<ellipse cx="275.30" cy="410.20" rx="1.85" ry="2.0" fill="#000" fill-opacity="0.5"/>
<ellipse cx="276.80" cy="417.30" rx="1.85" ry="2.0" fill="#000" fill-opacity="0.5"/>
<ellipse cx="277.40" cy="420.10" rx="1.85" ry="2.0" fill="#000" fill-opacity="0.5"/>
<ellipse cx="279.30" cy="427.70" rx="1.85" ry="2.0" fill="#000" fill-opacity="0.5"/>
<ellipse cx="279.80" cy="430.00" rx="1.85" ry="2.0" fill="#000" fill-opacity="0.5"/>
<ellipse cx="279.80" cy="430.00" rx="1.85" ry="2.0" fill="#000" fill-opacity="0.5"/>
<ellipse cx="281.70" cy="437.50" rx="1.85" ry="2.0" fill="#000" fill-opacity="0.5"/>
<ellipse cx="282.70" cy="441.20" rx="1.85" ry="2.0" fill="#000" fill-opacity="0.5"/>
<ellipse cx="283.50" cy="444.80" rx="1.85" ry="2.0" fill="#000" fill-opacity="0.5"/>
<ellipse cx="283.50" cy="444.80" rx="1.85" ry="2.0" fill="#000" fill-opacity="0.5"/>
<ellipse cx="284.40" cy="447.70" rx="1.85" ry="2.0" fill="#000" fill-opacity="0.5"/>
<ellipse cx="284.40" cy="447.70" rx="1.85" ry="2.0" fill="#000" fill-opacity="0.5"/>
<ellipse cx="285.00" cy="450.20" rx="1.85" ry="2.0" fill="#000" fill-opacity="0.5"/>
<ellipse cx="285.80" cy="453.00" rx="1.85" ry="2.0" fill="#000" fill-opacity="0.5"/>
<ellipse cx="287.70" cy="458.90" rx="1.85" ry="2.0" fill="#000" fill-opacity="0.5"/>
<ellipse cx="289.60" cy="465.80" rx="1.85" ry="2.0" fill="#000" fill-opacity="0.5"/>
<ellipse cx="291.30" cy="470.50" rx="1.85" ry="2.0" fill="#000" fill-opacity="0.5"/>
<ellipse cx="292.40" cy="473.30" rx="1.85" ry="2.0" fill="#000" fill-opacity="0.5"/>
<ellipse cx="292.40" cy="473.30" rx="1.85" ry="2.0" fill="#000" fill-opacity="0.5"/>
<ellipse cx="293.70" cy="476.90" rx="1.85" ry="2.0" fill="#000" fill-opacity="0.5"/>
<ellipse cx="293.70" cy="476.90" rx="1.85" ry="2.0" fill="#000" fill-opacity="0.5"/>
<ellipse cx="294.90" cy="479.80" rx="1.85" ry="2.0" fill="#000" fill-opacity="0.5"/>
<ellipse cx="294.90" cy="479.80" rx="1.85" ry="2.0" fill="#000" fill-opacity="0.5"/>
<ellipse cx="297.40" cy="486.40" rx="1.85" ry="2.0" fill="#000" fill-opacity="0.5"/>
<ellipse cx="297.40" cy="486.40" rx="1.85" ry="2.0" fill="#000" fill-opacity="0.5"/>
<ellipse cx="301.20" cy="495.50" rx="1.85" ry="2.0" fill="#000" fill-opacity="0.5"/>
<ellipse cx="304.90" cy="504.70" rx="1.85" ry="2.0" fill="#000" fill-opacity="0.5"/>
<ellipse cx="311.50" cy="517.20" rx="1.85" ry="2.0" fill="#000" fill-opacity="0.5"/>
<ellipse cx="311.50" cy="517.20" rx="1.85" ry="2.0" fill="#000" fill-opacity="0.5"/>
<ellipse cx="324.20" cy="538.30" rx="1.85" ry="2.0" fill="#000" fill-opacity="0.5"/>
<ellipse cx="324.20" cy="538.30" rx="1.85" ry="2.0" fill="#000" fill-opacity="0.5"/>
<ellipse cx="327.80" cy="543.70" rx="1.85" ry="2.0" fill="#000" fill-opacity="0.5"/>
<ellipse cx="331.30" cy="548.60" rx="1.85" ry="2.0" fill="#000" fill-opacity="0.5"/>
<ellipse cx="337.90" cy="545.70" rx="1.85" ry="2.0" fill="#000" fill-opacity="0.5"/>
<ellipse cx="345.10" cy="535.30" rx="1.85" ry="2.0" fill="#000" fill-opacity="0.5"/>
<ellipse cx="353.40" cy="521.80" rx="1.85" ry="2.0" fill="#000" fill-opacity="0.5"/>
<ellipse cx="353.40" cy="521.80" rx="1.85" ry="2.0" fill="#000" fill-opacity="0.5"/>
<ellipse cx="359.60" cy="510.30" rx="1.85" ry="2.0" fill="#000" fill-opacity="0.5"/>
<ellipse cx="361.80" cy="506.20" rx="1.85" ry="2.0" fill="#000" fill-opacity="0.5"/>
<ellipse cx="363.30" cy="502.90" rx="1.85" ry="2.0" fill="#000" fill-opacity="0.5"/>
<ellipse cx="363.30" cy="502.90" rx="1.85" ry="2.0" fill="#000" fill-opacity="0.5"/>
<ellipse cx="366.20" cy="495.80" rx="1.85" ry="2.0" fill="#000" fill-opacity="0.5"/>
<ellipse cx="367.90" cy="492.20" rx="1.85" ry="2.0" fill="#000" fill-opacity="0.5"/>
<ellipse cx="367.90" cy="492.20" rx="1.85" ry="2.0" fill="#000" fill-opacity="0.5"/>
<ellipse cx="370.00" cy="486.40" rx="1.85" ry="2.0" fill="#000" fill-opacity="0.5"/>
<ellipse cx="371.50" cy="483.10" rx="1.85" ry="2.0" fill="#000" fill-opacity="0.5"/>
<ellipse cx="371.50" cy="483.10" rx="1.85" ry="2.0" fill="#000" fill-opacity="0.5"/>
<ellipse cx="372.30" cy="481.00" rx="1.85" ry="2.0" fill="#000" fill-opacity="0.5"/>
<ellipse cx="372.30" cy="481.00" rx="1.85" ry="2.0" fill="#000" fill-opacity="0.5"/>
<ellipse cx="376.60" cy="469.10" rx="1.85" ry="2.0" fill="#000" fill-opacity="0.5"/>
<ellipse cx="381.40" cy="453.70" rx="1.85" ry="2.0" fill="#000" fill-opacity="0.5"/>
<ellipse cx="382.20" cy="450.70" rx="1.85" ry="2.0" fill="#000" fill-opacity="0.5"/>
<ellipse cx="383.00" cy="447.70" rx="1.85" ry="2.0" fill="#000" fill-opacity="0.5"/>
<ellipse cx="384.30" cy="443.10" rx="1.85" ry="2.0" fill="#000" fill-opacity="0.5"/>
<ellipse cx="384.30" cy="443.10" rx="1.85" ry="2.0" fill="#000" fill-opacity="0.5"/>
<ellipse cx="388.40" cy="426.30" rx="1.85" ry="2.0" fill="#000" fill-opacity="0.5"/>
<ellipse cx="389.60" cy="422.20" rx="1.85" ry="2.0" fill="#000" fill-opacity="0.5"/>
<ellipse cx="389.60" cy="422.20" rx="1.85" ry="2.0" fill="#000" fill-opacity="0.5"/>
<ellipse cx="391.70" cy="411.90" rx="1.85" ry="2.0" fill="#000" fill-opacity="0.5"/>
<ellipse cx="391.70" cy="411.90" rx="1.85" ry="2.0" fill="#000" fill-opacity="0.5"/>
<ellipse cx="393.00" cy="405.80" rx="1.85" ry="2.0" fill="#000" fill-opacity="0.5"/>
<ellipse cx="393.00" cy="405.80" rx="1.85" ry="2.0" fill="#000" fill-opacity="0.5"/>
<ellipse cx="393.40" cy="403.00" rx="1.85" ry="2.0" fill="#000" fill-opacity="0.5"/>
<ellipse cx="393.70" cy="401.70" rx="1.85" ry="2.0" fill="#000" fill-opacity="0.5"/>
<ellipse cx="393.70" cy="401.70" rx="1.85" ry="2.0" fill="#000" fill-opacity="0.5"/>
<ellipse cx="394.50" cy="397.50" rx="1.85" ry="2.0" fill="#000" fill-opacity="0.5"/>
<ellipse cx="396.70" cy="386.70" rx="1.85" ry="2.0" fill="#000" fill-opacity="0.5"/>
<ellipse cx="397.20" cy="382.80" rx="1.85" ry="2.0" fill="#000" fill-opacity="0.5"/>
<ellipse cx="398.60" cy="374.40" rx="1.85" ry="2.0" fill="#000" fill-opacity="0.5"/>
<ellipse cx="399.20" cy="369.70" rx="1.85" ry="2.0" fill="#000" fill-opacity="0.5"/>
<ellipse cx="400.60" cy="360.70" rx="1.85" ry="2.0" fill="#000" fill-opacity="0.5"/>
<ellipse cx="400.60" cy="360.70" rx="1.85" ry="2.0" fill="#000" fill-opacity="0.5"/>
<ellipse cx="401.80" cy="352.60" rx="1.85" ry="2.0" fill="#000" fill-opacity="0.5"/>
<ellipse cx="401.80" cy="352.60" rx="1.85" ry="2.0" fill="#000" fill-opacity="0.5"/>
<ellipse cx="402.70" cy="345.60" rx="1.85" ry="2.0" fill="#000" fill-opacity="0.5"/>
<ellipse cx="261.40" cy="313.50" rx="1.6" ry="1.7" fill="#0000ff" fill-opacity="0.5"/>
<ellipse cx="262.70" cy="325.50" rx="1.6" ry="1.7" fill="#0000ff" fill-opacity="0.5"/>
<ellipse cx="263.10" cy="329.20" rx="1.6" ry="1.7" fill="#0000ff" fill-opacity="0.5"/>
<ellipse cx="263.40" cy="332.00" rx="1.6" ry="1.7" fill="#0000ff" fill-opacity="0.5"/>
<ellipse cx="404.70" cy="325.70" rx="1.6" ry="1.7" fill="#ff0000" fill-opacity="0.72"/>
<ellipse cx="404.00" cy="331.30" rx="1.6" ry="1.7" fill="#ff0000" fill-opacity="0.72"/>
<ellipse cx="403.80" cy="334.50" rx="1.6" ry="1.7" fill="#ff0000" fill-opacity="0.72"/>
<text x="242.00" y="310.25" font-size="6.9" fill="#111" textLength="70.00" lengthAdjust="spacingAndGlyphs">Lachnospiraceae_NA_NA.14</text>
<text x="243.10" y="337.55" font-size="6.9" fill="#111" textLength="70.10" lengthAdjust="spacingAndGlyphs">Lachnospiraceae_NA_NA.36</text>
<text x="377.40" y="321.45" font-size="6.9" fill="#111" textLength="50.60" lengthAdjust="spacingAndGlyphs">ASV189_ Clostridia</text>
<text x="332.90" y="328.15" font-size="6.9" fill="#111" textLength="69.70" lengthAdjust="spacingAndGlyphs">Lachnospiraceae_NA_NA.31</text>
<rect x="447.40" y="13.60" width="12.00" height="9.43" fill="#acd2e6"/>
<rect x="459.40" y="13.60" width="11.80" height="9.43" fill="#4a7dbe"/>
<text x="465.50" y="20.25" font-size="7.6" text-anchor="middle" stroke="#000" stroke-width="0.1">*</text>
<rect x="447.40" y="23.03" width="12.00" height="9.43" fill="#fdcd82"/>
<rect x="459.40" y="23.03" width="11.80" height="9.43" fill="#da3226"/>
<text x="465.50" y="29.68" font-size="7.6" text-anchor="middle" stroke="#000" stroke-width="0.1">*</text>
<rect x="447.40" y="32.46" width="12.00" height="9.43" fill="#faaa69"/>
<rect x="459.40" y="32.46" width="11.80" height="9.43" fill="#de3c2d"/>
<text x="465.50" y="39.11" font-size="7.6" text-anchor="middle" stroke="#000" stroke-width="0.1">*</text>
<rect x="447.40" y="41.89" width="12.00" height="9.43" fill="#fab46e"/>
<rect x="459.40" y="41.89" width="11.80" height="9.43" fill="#de3c2d"/>
<text x="465.50" y="48.54" font-size="7.6" text-anchor="middle" stroke="#000" stroke-width="0.1">*</text>
<rect x="447.40" y="51.32" width="12.00" height="9.43" fill="#fcd487"/>
<rect x="459.40" y="51.32" width="11.80" height="9.43" fill="#da3226"/>
<text x="465.50" y="57.97" font-size="7.6" text-anchor="middle" stroke="#000" stroke-width="0.1">*</text>
<rect x="447.40" y="60.75" width="12.00" height="9.43" fill="#fddc8c"/>
<rect x="459.40" y="60.75" width="11.80" height="9.43" fill="#da3226"/>
<text x="465.50" y="67.40" font-size="7.6" text-anchor="middle" stroke="#000" stroke-width="0.1">*</text>
<rect x="447.40" y="70.18" width="12.00" height="9.43" fill="#4878be"/>
<rect x="459.40" y="70.18" width="11.80" height="9.43" fill="#d2e8f2"/>
<text x="453.60" y="76.83" font-size="7.6" text-anchor="middle" stroke="#000" stroke-width="0.1">*</text>
<line x1="447.40" y1="13.60" x2="471.20" y2="13.60" stroke="#a3a3a3" stroke-width="1.1"/>
<line x1="447.40" y1="23.03" x2="471.20" y2="23.03" stroke="#a3a3a3" stroke-width="1.1"/>
<line x1="447.40" y1="32.46" x2="471.20" y2="32.46" stroke="#a3a3a3" stroke-width="1.1"/>
<line x1="447.40" y1="41.89" x2="471.20" y2="41.89" stroke="#a3a3a3" stroke-width="1.1"/>
<line x1="447.40" y1="51.32" x2="471.20" y2="51.32" stroke="#a3a3a3" stroke-width="1.1"/>
<line x1="447.40" y1="60.75" x2="471.20" y2="60.75" stroke="#a3a3a3" stroke-width="1.1"/>
<line x1="447.40" y1="70.18" x2="471.20" y2="70.18" stroke="#a3a3a3" stroke-width="1.1"/>
<line x1="447.40" y1="79.61" x2="471.20" y2="79.61" stroke="#a3a3a3" stroke-width="1.1"/>
<line x1="447.40" y1="13.05" x2="447.40" y2="80.16" stroke="#a3a3a3" stroke-width="1.1"/>
<line x1="459.40" y1="13.05" x2="459.40" y2="80.16" stroke="#a3a3a3" stroke-width="1.1"/>
<line x1="471.20" y1="13.05" x2="471.20" y2="80.16" stroke="#a3a3a3" stroke-width="1.1"/>
<text x="473.90" y="21.25" font-size="8.27" fill="#111" stroke="#111" stroke-width="0.2">Lachnospiraceae_NA_NA.14</text>
<text x="473.90" y="30.68" font-size="8.27" fill="#111" stroke="#111" stroke-width="0.2">Lachnospiraceae_Acetatifactor_NA.1</text>
<text x="473.90" y="40.11" font-size="8.27" fill="#111" textLength="163.90" lengthAdjust="spacingAndGlyphs" stroke="#111" stroke-width="0.2">Lachnospiraceae_Lachnospiraceae NK4A136 group_NA.6</text>
<text x="473.90" y="49.54" font-size="8.27" fill="#111" stroke="#111" stroke-width="0.2">Lachnospiraceae_Acetatifactor_NA</text>
<text x="473.90" y="58.97" font-size="8.27" fill="#111" stroke="#111" stroke-width="0.2">Lachnospiraceae_NA_NA.11</text>
<text x="473.90" y="68.40" font-size="8.27" fill="#111" stroke="#111" stroke-width="0.2">Oscillospiraceae_NA_NA.7</text>
<text x="473.90" y="77.83" font-size="8.27" fill="#111" stroke="#111" stroke-width="0.2">Lachnospiraceae_NA_NA.44</text>
<text transform="translate(450.7 81.6) rotate(90)" font-size="7.1" fill="#111" textLength="48.6" lengthAdjust="spacingAndGlyphs">Secondary_DG</text>
<text transform="translate(462.6 81.6) rotate(90)" font-size="7.1" fill="#111" textLength="37.6" lengthAdjust="spacingAndGlyphs">Tertiary_DG</text>
<defs><linearGradient id="cb1" x1="0" y1="0" x2="0" y2="1"><stop offset="0.0000" stop-color="#d73027"/><stop offset="0.0417" stop-color="#e14934"/><stop offset="0.0833" stop-color="#eb6141"/><stop offset="0.1250" stop-color="#f47a4f"/><stop offset="0.1667" stop-color="#fc925c"/><stop offset="0.2083" stop-color="#fda86b"/><stop offset="0.2500" stop-color="#fdbe79"/><stop offset="0.2917" stop-color="#fed488"/><stop offset="0.3333" stop-color="#fee496"/><stop offset="0.3750" stop-color="#feeca2"/><stop offset="0.4167" stop-color="#fff4ae"/><stop offset="0.4583" stop-color="#fffcbb"/><stop offset="0.5000" stop-color="#fafdc8"/><stop offset="0.5417" stop-color="#f3fad5"/><stop offset="0.5833" stop-color="#ebf7e3"/><stop offset="0.6250" stop-color="#e4f5f0"/><stop offset="0.6667" stop-color="#d8eef5"/><stop offset="0.7083" stop-color="#c5e1ee"/><stop offset="0.7500" stop-color="#b2d5e7"/><stop offset="0.7917" stop-color="#a0c9e0"/><stop offset="0.8333" stop-color="#8dbbd9"/><stop offset="0.8750" stop-color="#7baad0"/><stop offset="0.9167" stop-color="#6998c6"/><stop offset="0.9583" stop-color="#5787bd"/><stop offset="1.0000" stop-color="#4575b4"/></linearGradient></defs>
<rect x="643.20" y="23.80" width="5.70" height="79.00" fill="url(#cb1)"/>
<text x="651.60" y="41.85" font-size="8.0" fill="#111" stroke="#111" stroke-width="0.2">0.5</text>
<text x="651.60" y="63.95" font-size="8.0" fill="#111" stroke="#111" stroke-width="0.2">0</text>
<text x="651.60" y="86.06" font-size="8.0" fill="#111" stroke="#111" stroke-width="0.2">−0.5</text>
<text x="643.50" y="15.02" font-size="7.1" fill="#111" stroke="#111" stroke-width="0.2">Pearson</text>
<text x="643.50" y="21.22" font-size="7.1" fill="#111" textLength="34.60" lengthAdjust="spacingAndGlyphs" stroke="#111" stroke-width="0.2">Correlation</text>
<rect x="448.40" y="306.40" width="8.80" height="7.10" fill="#8cbee1"/>
<rect x="457.20" y="306.40" width="8.70" height="7.10" fill="#4a7dbe"/>
<text x="461.75" y="311.63" font-size="6.6" text-anchor="middle" stroke="#000" stroke-width="0.1">*</text>
<rect x="448.40" y="313.50" width="8.80" height="7.10" fill="#8cbee1"/>
<rect x="457.20" y="313.50" width="8.70" height="7.10" fill="#4a7dbe"/>
<text x="461.75" y="318.73" font-size="6.6" text-anchor="middle" stroke="#000" stroke-width="0.1">*</text>
<rect x="448.40" y="320.60" width="8.80" height="7.10" fill="#8cbee1"/>
<rect x="457.20" y="320.60" width="8.70" height="7.10" fill="#4a7dbe"/>
<text x="461.75" y="325.83" font-size="6.6" text-anchor="middle" stroke="#000" stroke-width="0.1">*</text>
<rect x="448.40" y="327.70" width="8.80" height="7.10" fill="#afd4eb"/>
<rect x="457.20" y="327.70" width="8.70" height="7.10" fill="#4a7dbe"/>
<text x="461.75" y="332.93" font-size="6.6" text-anchor="middle" stroke="#000" stroke-width="0.1">*</text>
<rect x="448.40" y="334.80" width="8.80" height="7.10" fill="#afd4eb"/>
<rect x="457.20" y="334.80" width="8.70" height="7.10" fill="#4a7dbe"/>
<text x="461.75" y="340.03" font-size="6.6" text-anchor="middle" stroke="#000" stroke-width="0.1">*</text>
<rect x="448.40" y="341.90" width="8.80" height="7.10" fill="#dc2d23"/>
<rect x="457.20" y="341.90" width="8.70" height="7.10" fill="#dc2d23"/>
<text x="453.00" y="347.13" font-size="6.6" text-anchor="middle" stroke="#000" stroke-width="0.1">*</text>
<text x="461.75" y="347.13" font-size="6.6" text-anchor="middle" stroke="#000" stroke-width="0.1">*</text>
<rect x="448.40" y="349.00" width="8.80" height="7.10" fill="#e44130"/>
<rect x="457.20" y="349.00" width="8.70" height="7.10" fill="#dc2d23"/>
<text x="461.75" y="354.23" font-size="6.6" text-anchor="middle" stroke="#000" stroke-width="0.1">*</text>
<rect x="448.40" y="356.10" width="8.80" height="7.10" fill="#e85037"/>
<rect x="457.20" y="356.10" width="8.70" height="7.10" fill="#dc2d23"/>
<text x="461.75" y="361.33" font-size="6.6" text-anchor="middle" stroke="#000" stroke-width="0.1">*</text>
<line x1="448.40" y1="306.40" x2="465.90" y2="306.40" stroke="#a3a3a3" stroke-width="1.1"/>
<line x1="448.40" y1="313.50" x2="465.90" y2="313.50" stroke="#a3a3a3" stroke-width="1.1"/>
<line x1="448.40" y1="320.60" x2="465.90" y2="320.60" stroke="#a3a3a3" stroke-width="1.1"/>
<line x1="448.40" y1="327.70" x2="465.90" y2="327.70" stroke="#a3a3a3" stroke-width="1.1"/>
<line x1="448.40" y1="334.80" x2="465.90" y2="334.80" stroke="#a3a3a3" stroke-width="1.1"/>
<line x1="448.40" y1="341.90" x2="465.90" y2="341.90" stroke="#a3a3a3" stroke-width="1.1"/>
<line x1="448.40" y1="349.00" x2="465.90" y2="349.00" stroke="#a3a3a3" stroke-width="1.1"/>
<line x1="448.40" y1="356.10" x2="465.90" y2="356.10" stroke="#a3a3a3" stroke-width="1.1"/>
<line x1="448.40" y1="363.20" x2="465.90" y2="363.20" stroke="#a3a3a3" stroke-width="1.1"/>
<line x1="448.40" y1="305.85" x2="448.40" y2="363.75" stroke="#a3a3a3" stroke-width="1.1"/>
<line x1="457.20" y1="305.85" x2="457.20" y2="363.75" stroke="#a3a3a3" stroke-width="1.1"/>
<line x1="465.90" y1="305.85" x2="465.90" y2="363.75" stroke="#a3a3a3" stroke-width="1.1"/>
<text x="468.70" y="312.79" font-size="8.0" fill="#111" textLength="167.90" lengthAdjust="spacingAndGlyphs" stroke="#111" stroke-width="0.2">Lachnospiraceae_Lachnoclostridium_NA.11</text>
<text x="468.70" y="319.89" font-size="8.0" fill="#111" textLength="110.92" lengthAdjust="spacingAndGlyphs" stroke="#111" stroke-width="0.2">Lachnospiraceae_NA_NA.36</text>
<text x="468.70" y="326.99" font-size="8.0" fill="#111" textLength="110.92" lengthAdjust="spacingAndGlyphs" stroke="#111" stroke-width="0.2">Lachnospiraceae_NA_NA.22</text>
<text x="468.70" y="334.09" font-size="8.0" fill="#111" textLength="104.71" lengthAdjust="spacingAndGlyphs" stroke="#111" stroke-width="0.2">Lachnospiraceae_A2_NA.1</text>
<text x="468.70" y="341.19" font-size="8.0" fill="#111" textLength="110.92" lengthAdjust="spacingAndGlyphs" stroke="#111" stroke-width="0.2">Lachnospiraceae_NA_NA.14</text>
<text x="468.70" y="348.29" font-size="8.0" fill="#111" textLength="110.92" lengthAdjust="spacingAndGlyphs" stroke="#111" stroke-width="0.2">Lachnospiraceae_NA_NA.45</text>
<text x="468.70" y="355.39" font-size="8.0" fill="#111" textLength="110.92" lengthAdjust="spacingAndGlyphs" stroke="#111" stroke-width="0.2">Lachnospiraceae_NA_NA.31</text>
<text x="468.70" y="362.49" font-size="8.0" fill="#111" textLength="74.58" lengthAdjust="spacingAndGlyphs" stroke="#111" stroke-width="0.2">ASV189_ Clostridia</text>
<text transform="translate(450.2 365.8) rotate(90)" font-size="7.2" fill="#111" textLength="49.3" lengthAdjust="spacingAndGlyphs">Secondary_DG</text>
<text transform="translate(459.5 365.8) rotate(90)" font-size="7.1" fill="#111" textLength="38.1" lengthAdjust="spacingAndGlyphs">Tertiary_DG</text>
<defs><linearGradient id="cb2" x1="0" y1="0" x2="0" y2="1"><stop offset="0.0000" stop-color="#d73027"/><stop offset="0.0417" stop-color="#e14834"/><stop offset="0.0833" stop-color="#ea6141"/><stop offset="0.1250" stop-color="#f4794e"/><stop offset="0.1667" stop-color="#fc915b"/><stop offset="0.2083" stop-color="#fda66a"/><stop offset="0.2500" stop-color="#fdbc78"/><stop offset="0.2917" stop-color="#fed286"/><stop offset="0.3333" stop-color="#fee394"/><stop offset="0.3750" stop-color="#feeba0"/><stop offset="0.4167" stop-color="#fff3ad"/><stop offset="0.4583" stop-color="#fffbb9"/><stop offset="0.5000" stop-color="#fbfec6"/><stop offset="0.5417" stop-color="#f4fbd4"/><stop offset="0.5833" stop-color="#ecf8e1"/><stop offset="0.6250" stop-color="#e5f5ef"/><stop offset="0.6667" stop-color="#daeff6"/><stop offset="0.7083" stop-color="#c7e2ef"/><stop offset="0.7500" stop-color="#b4d6e8"/><stop offset="0.7917" stop-color="#a1c9e1"/><stop offset="0.8333" stop-color="#8ebcd9"/><stop offset="0.8750" stop-color="#7caad0"/><stop offset="0.9167" stop-color="#6999c7"/><stop offset="0.9583" stop-color="#5787bd"/><stop offset="1.0000" stop-color="#4575b4"/></linearGradient></defs>
<rect x="645.10" y="317.70" width="5.20" height="75.10" fill="url(#cb2)"/>
<text x="652.80" y="334.10" font-size="8.2" fill="#111" stroke="#111" stroke-width="0.2">0.5</text>
<text x="652.80" y="356.59" font-size="8.2" fill="#111" stroke="#111" stroke-width="0.2">0</text>
<text x="652.80" y="379.07" font-size="8.2" fill="#111" stroke="#111" stroke-width="0.2">−0.5</text>
<text x="645.40" y="309.21" font-size="6.8" fill="#111" stroke="#111" stroke-width="0.2">Pearson</text>
<text x="645.40" y="314.51" font-size="6.8" fill="#111" textLength="33.30" lengthAdjust="spacingAndGlyphs" stroke="#111" stroke-width="0.2">Correlation</text>
<rect x="475.30" y="143.30" width="150.90" height="89.10" fill="#ebebeb"/>
<line x1="475.30" y1="217.55" x2="626.20" y2="217.55" stroke="#fff" stroke-width="0.55"/>
<line x1="475.30" y1="187.85" x2="626.20" y2="187.85" stroke="#fff" stroke-width="0.55"/>
<line x1="475.30" y1="158.15" x2="626.20" y2="158.15" stroke="#fff" stroke-width="0.55"/>
<line x1="489.18" y1="143.30" x2="489.18" y2="232.40" stroke="#fff" stroke-width="0.55"/>
<line x1="502.93" y1="143.30" x2="502.93" y2="232.40" stroke="#fff" stroke-width="0.55"/>
<line x1="516.67" y1="143.30" x2="516.67" y2="232.40" stroke="#fff" stroke-width="0.55"/>
<line x1="530.42" y1="143.30" x2="530.42" y2="232.40" stroke="#fff" stroke-width="0.55"/>
<line x1="544.17" y1="143.30" x2="544.17" y2="232.40" stroke="#fff" stroke-width="0.55"/>
<line x1="557.92" y1="143.30" x2="557.92" y2="232.40" stroke="#fff" stroke-width="0.55"/>
<line x1="571.67" y1="143.30" x2="571.67" y2="232.40" stroke="#fff" stroke-width="0.55"/>
<line x1="585.42" y1="143.30" x2="585.42" y2="232.40" stroke="#fff" stroke-width="0.55"/>
<line x1="599.17" y1="143.30" x2="599.17" y2="232.40" stroke="#fff" stroke-width="0.55"/>
<line x1="612.92" y1="143.30" x2="612.92" y2="232.40" stroke="#fff" stroke-width="0.55"/>
<line x1="475.30" y1="232.40" x2="626.20" y2="232.40" stroke="#fff" stroke-width="1.1"/>
<line x1="475.30" y1="202.70" x2="626.20" y2="202.70" stroke="#fff" stroke-width="1.1"/>
<line x1="475.30" y1="173.00" x2="626.20" y2="173.00" stroke="#fff" stroke-width="1.1"/>
<line x1="475.30" y1="143.30" x2="626.20" y2="143.30" stroke="#fff" stroke-width="1.1"/>
<line x1="482.30" y1="143.30" x2="482.30" y2="232.40" stroke="#fff" stroke-width="1.1"/>
<line x1="496.05" y1="143.30" x2="496.05" y2="232.40" stroke="#fff" stroke-width="1.1"/>
<line x1="509.80" y1="143.30" x2="509.80" y2="232.40" stroke="#fff" stroke-width="1.1"/>
<line x1="523.55" y1="143.30" x2="523.55" y2="232.40" stroke="#fff" stroke-width="1.1"/>
<line x1="537.30" y1="143.30" x2="537.30" y2="232.40" stroke="#fff" stroke-width="1.1"/>
<line x1="551.05" y1="143.30" x2="551.05" y2="232.40" stroke="#fff" stroke-width="1.1"/>
<line x1="564.80" y1="143.30" x2="564.80" y2="232.40" stroke="#fff" stroke-width="1.1"/>
<line x1="578.55" y1="143.30" x2="578.55" y2="232.40" stroke="#fff" stroke-width="1.1"/>
<line x1="592.30" y1="143.30" x2="592.30" y2="232.40" stroke="#fff" stroke-width="1.1"/>
<line x1="606.05" y1="143.30" x2="606.05" y2="232.40" stroke="#fff" stroke-width="1.1"/>
<line x1="619.80" y1="143.30" x2="619.80" y2="232.40" stroke="#fff" stroke-width="1.1"/>
<line x1="472.50" y1="232.40" x2="475.30" y2="232.40" stroke="#333" stroke-width="1.1"/>
<text x="471.70" y="235.38" font-size="8.4" text-anchor="end" fill="#4d4d4d">0.4</text>
<line x1="472.50" y1="202.70" x2="475.30" y2="202.70" stroke="#333" stroke-width="1.1"/>
<text x="471.70" y="205.68" font-size="8.4" text-anchor="end" fill="#4d4d4d">0.6</text>
<line x1="472.50" y1="173.00" x2="475.30" y2="173.00" stroke="#333" stroke-width="1.1"/>
<text x="471.70" y="175.98" font-size="8.4" text-anchor="end" fill="#4d4d4d">0.8</text>
<line x1="472.50" y1="143.30" x2="475.30" y2="143.30" stroke="#333" stroke-width="1.1"/>
<text x="471.70" y="146.28" font-size="8.4" text-anchor="end" fill="#4d4d4d">1.0</text>
<line x1="482.30" y1="232.40" x2="482.30" y2="235.00" stroke="#333" stroke-width="1.1"/>
<text x="485.70" y="239.60" font-size="7.5" text-anchor="end" fill="#4d4d4d" transform="rotate(-45 485.70 239.60)">0.00e+00</text>
<line x1="496.05" y1="232.40" x2="496.05" y2="235.00" stroke="#333" stroke-width="1.1"/>
<text x="499.45" y="239.60" font-size="7.5" text-anchor="end" fill="#4d4d4d" transform="rotate(-45 499.45 239.60)">1.33e−04</text>
<line x1="509.80" y1="232.40" x2="509.80" y2="235.00" stroke="#333" stroke-width="1.1"/>
<text x="513.20" y="239.60" font-size="7.5" text-anchor="end" fill="#4d4d4d" transform="rotate(-45 513.20 239.60)">2.67e−04</text>
<line x1="523.55" y1="232.40" x2="523.55" y2="235.00" stroke="#333" stroke-width="1.1"/>
<text x="526.95" y="239.60" font-size="7.5" text-anchor="end" fill="#4d4d4d" transform="rotate(-45 526.95 239.60)">4.00e−04</text>
<line x1="537.30" y1="232.40" x2="537.30" y2="235.00" stroke="#333" stroke-width="1.1"/>
<text x="540.70" y="239.60" font-size="7.5" text-anchor="end" fill="#4d4d4d" transform="rotate(-45 540.70 239.60)">5.33e−04</text>
<line x1="551.05" y1="232.40" x2="551.05" y2="235.00" stroke="#333" stroke-width="1.1"/>
<text x="554.45" y="239.60" font-size="7.5" text-anchor="end" fill="#4d4d4d" transform="rotate(-45 554.45 239.60)">6.67e−04</text>
<line x1="564.80" y1="232.40" x2="564.80" y2="235.00" stroke="#333" stroke-width="1.1"/>
<text x="568.20" y="239.60" font-size="7.5" text-anchor="end" fill="#4d4d4d" transform="rotate(-45 568.20 239.60)">8.00e−04</text>
<line x1="578.55" y1="232.40" x2="578.55" y2="235.00" stroke="#333" stroke-width="1.1"/>
<text x="581.95" y="239.60" font-size="7.5" text-anchor="end" fill="#4d4d4d" transform="rotate(-45 581.95 239.60)">9.33e−04</text>
<line x1="592.30" y1="232.40" x2="592.30" y2="235.00" stroke="#333" stroke-width="1.1"/>
<text x="595.70" y="239.60" font-size="7.5" text-anchor="end" fill="#4d4d4d" transform="rotate(-45 595.70 239.60)">1.07e−03</text>
<line x1="606.05" y1="232.40" x2="606.05" y2="235.00" stroke="#333" stroke-width="1.1"/>
<text x="609.45" y="239.60" font-size="7.5" text-anchor="end" fill="#4d4d4d" transform="rotate(-45 609.45 239.60)">1.20e−03</text>
<line x1="619.80" y1="232.40" x2="619.80" y2="235.00" stroke="#333" stroke-width="1.1"/>
<text x="623.20" y="239.60" font-size="7.5" text-anchor="end" fill="#4d4d4d" transform="rotate(-45 623.20 239.60)">1.33e−03</text>
<line x1="482.20" y1="154.20" x2="619.50" y2="205.80" stroke="#000" stroke-width="1.3" stroke-dasharray="4.2 3.6"/>
<circle cx="482.20" cy="171.80" r="2.90" fill="#00eeee" fill-opacity="0.56"/>
<circle cx="482.20" cy="148.60" r="2.90" fill="#00eeee" fill-opacity="0.56"/>
<circle cx="482.20" cy="151.80" r="2.90" fill="#00eeee" fill-opacity="0.56"/>
<circle cx="502.70" cy="151.00" r="2.90" fill="#00ee00" fill-opacity="0.56"/>
<circle cx="610.70" cy="204.80" r="2.90" fill="#00ee00" fill-opacity="0.56"/>
<circle cx="619.50" cy="205.70" r="2.90" fill="#00ee00" fill-opacity="0.56"/>
<text x="452.90" y="191.09" font-size="9.0" text-anchor="middle" fill="#111" textLength="61.30" lengthAdjust="spacingAndGlyphs" transform="rotate(-90 452.90 187.90)" stroke="#111" stroke-width="0.15">Secondary_DG</text>
<text x="543.25" y="272.93" font-size="9.1" text-anchor="middle" fill="#111" textLength="117.70" lengthAdjust="spacingAndGlyphs" stroke="#111" stroke-width="0.15">Lachnospiraceae_NA_NA.44</text>
<text x="628.70" y="152.00" font-size="9.0" fill="#111" stroke="#111" stroke-width="0.15">Groups</text>
<circle cx="635.50" cy="163.80" r="3.50" fill="#00ee00" fill-opacity="0.56"/>
<text x="641.60" y="166.73" font-size="7.4" fill="#222" stroke="#222" stroke-width="0.15">3xTg_C</text>
<circle cx="635.50" cy="178.20" r="3.50" fill="#00eeee" fill-opacity="0.56"/>
<text x="641.60" y="181.13" font-size="7.4" fill="#222" stroke="#222" stroke-width="0.15">3xTg_M</text>
<rect x="479.40" y="440.90" width="152.60" height="92.10" fill="#ebebeb"/>
<line x1="479.40" y1="517.65" x2="632.00" y2="517.65" stroke="#fff" stroke-width="0.55"/>
<line x1="479.40" y1="486.95" x2="632.00" y2="486.95" stroke="#fff" stroke-width="0.55"/>
<line x1="479.40" y1="456.25" x2="632.00" y2="456.25" stroke="#fff" stroke-width="0.55"/>
<line x1="493.08" y1="440.90" x2="493.08" y2="533.00" stroke="#fff" stroke-width="0.55"/>
<line x1="507.03" y1="440.90" x2="507.03" y2="533.00" stroke="#fff" stroke-width="0.55"/>
<line x1="520.98" y1="440.90" x2="520.98" y2="533.00" stroke="#fff" stroke-width="0.55"/>
<line x1="534.93" y1="440.90" x2="534.93" y2="533.00" stroke="#fff" stroke-width="0.55"/>
<line x1="548.88" y1="440.90" x2="548.88" y2="533.00" stroke="#fff" stroke-width="0.55"/>
<line x1="562.83" y1="440.90" x2="562.83" y2="533.00" stroke="#fff" stroke-width="0.55"/>
<line x1="576.77" y1="440.90" x2="576.77" y2="533.00" stroke="#fff" stroke-width="0.55"/>
<line x1="590.73" y1="440.90" x2="590.73" y2="533.00" stroke="#fff" stroke-width="0.55"/>
<line x1="604.67" y1="440.90" x2="604.67" y2="533.00" stroke="#fff" stroke-width="0.55"/>
<line x1="618.62" y1="440.90" x2="618.62" y2="533.00" stroke="#fff" stroke-width="0.55"/>
<line x1="479.40" y1="533.00" x2="632.00" y2="533.00" stroke="#fff" stroke-width="1.1"/>
<line x1="479.40" y1="502.30" x2="632.00" y2="502.30" stroke="#fff" stroke-width="1.1"/>
<line x1="479.40" y1="471.60" x2="632.00" y2="471.60" stroke="#fff" stroke-width="1.1"/>
<line x1="479.40" y1="440.90" x2="632.00" y2="440.90" stroke="#fff" stroke-width="1.1"/>
<line x1="486.10" y1="440.90" x2="486.10" y2="533.00" stroke="#fff" stroke-width="1.1"/>
<line x1="500.05" y1="440.90" x2="500.05" y2="533.00" stroke="#fff" stroke-width="1.1"/>
<line x1="514.00" y1="440.90" x2="514.00" y2="533.00" stroke="#fff" stroke-width="1.1"/>
<line x1="527.95" y1="440.90" x2="527.95" y2="533.00" stroke="#fff" stroke-width="1.1"/>
<line x1="541.90" y1="440.90" x2="541.90" y2="533.00" stroke="#fff" stroke-width="1.1"/>
<line x1="555.85" y1="440.90" x2="555.85" y2="533.00" stroke="#fff" stroke-width="1.1"/>
<line x1="569.80" y1="440.90" x2="569.80" y2="533.00" stroke="#fff" stroke-width="1.1"/>
<line x1="583.75" y1="440.90" x2="583.75" y2="533.00" stroke="#fff" stroke-width="1.1"/>
<line x1="597.70" y1="440.90" x2="597.70" y2="533.00" stroke="#fff" stroke-width="1.1"/>
<line x1="611.65" y1="440.90" x2="611.65" y2="533.00" stroke="#fff" stroke-width="1.1"/>
<line x1="625.60" y1="440.90" x2="625.60" y2="533.00" stroke="#fff" stroke-width="1.1"/>
<line x1="476.60" y1="533.00" x2="479.40" y2="533.00" stroke="#333" stroke-width="1.1"/>
<text x="475.80" y="535.98" font-size="8.4" text-anchor="end" fill="#4d4d4d">0.8</text>
<line x1="476.60" y1="502.30" x2="479.40" y2="502.30" stroke="#333" stroke-width="1.1"/>
<text x="475.80" y="505.28" font-size="8.4" text-anchor="end" fill="#4d4d4d">1.0</text>
<line x1="476.60" y1="471.60" x2="479.40" y2="471.60" stroke="#333" stroke-width="1.1"/>
<text x="475.80" y="474.58" font-size="8.4" text-anchor="end" fill="#4d4d4d">1.2</text>
<line x1="476.60" y1="440.90" x2="479.40" y2="440.90" stroke="#333" stroke-width="1.1"/>
<text x="475.80" y="443.88" font-size="8.4" text-anchor="end" fill="#4d4d4d">1.4</text>
<line x1="486.10" y1="533.00" x2="486.10" y2="535.60" stroke="#333" stroke-width="1.1"/>
<text x="489.50" y="540.20" font-size="7.5" text-anchor="end" fill="#4d4d4d" transform="rotate(-45 489.50 540.20)">0.00e+00</text>
<line x1="500.05" y1="533.00" x2="500.05" y2="535.60" stroke="#333" stroke-width="1.1"/>
<text x="503.45" y="540.20" font-size="7.5" text-anchor="end" fill="#4d4d4d" transform="rotate(-45 503.45 540.20)">2.73e−04</text>
<line x1="514.00" y1="533.00" x2="514.00" y2="535.60" stroke="#333" stroke-width="1.1"/>
<text x="517.40" y="540.20" font-size="7.5" text-anchor="end" fill="#4d4d4d" transform="rotate(-45 517.40 540.20)">5.45e−04</text>
<line x1="527.95" y1="533.00" x2="527.95" y2="535.60" stroke="#333" stroke-width="1.1"/>
<text x="531.35" y="540.20" font-size="7.5" text-anchor="end" fill="#4d4d4d" transform="rotate(-45 531.35 540.20)">8.18e−04</text>
<line x1="541.90" y1="533.00" x2="541.90" y2="535.60" stroke="#333" stroke-width="1.1"/>
<text x="545.30" y="540.20" font-size="7.5" text-anchor="end" fill="#4d4d4d" transform="rotate(-45 545.30 540.20)">1.09e−03</text>
<line x1="555.85" y1="533.00" x2="555.85" y2="535.60" stroke="#333" stroke-width="1.1"/>
<text x="559.25" y="540.20" font-size="7.5" text-anchor="end" fill="#4d4d4d" transform="rotate(-45 559.25 540.20)">1.36e−03</text>
<line x1="569.80" y1="533.00" x2="569.80" y2="535.60" stroke="#333" stroke-width="1.1"/>
<text x="573.20" y="540.20" font-size="7.5" text-anchor="end" fill="#4d4d4d" transform="rotate(-45 573.20 540.20)">1.64e−03</text>
<line x1="583.75" y1="533.00" x2="583.75" y2="535.60" stroke="#333" stroke-width="1.1"/>
<text x="587.15" y="540.20" font-size="7.5" text-anchor="end" fill="#4d4d4d" transform="rotate(-45 587.15 540.20)">1.91e−03</text>
<line x1="597.70" y1="533.00" x2="597.70" y2="535.60" stroke="#333" stroke-width="1.1"/>
<text x="601.10" y="540.20" font-size="7.5" text-anchor="end" fill="#4d4d4d" transform="rotate(-45 601.10 540.20)">2.18e−03</text>
<line x1="611.65" y1="533.00" x2="611.65" y2="535.60" stroke="#333" stroke-width="1.1"/>
<text x="615.05" y="540.20" font-size="7.5" text-anchor="end" fill="#4d4d4d" transform="rotate(-45 615.05 540.20)">2.45e−03</text>
<line x1="625.60" y1="533.00" x2="625.60" y2="535.60" stroke="#333" stroke-width="1.1"/>
<text x="629.00" y="540.20" font-size="7.5" text-anchor="end" fill="#4d4d4d" transform="rotate(-45 629.00 540.20)">2.73e−03</text>
<line x1="486.10" y1="467.60" x2="625.60" y2="513.00" stroke="#000" stroke-width="1.3" stroke-dasharray="4.2 3.6"/>
<circle cx="486.10" cy="488.70" r="2.90" fill="#ee0000" fill-opacity="0.56"/>
<circle cx="486.10" cy="455.90" r="2.90" fill="#ee0000" fill-opacity="0.56"/>
<circle cx="486.10" cy="457.70" r="2.90" fill="#ee0000" fill-opacity="0.56"/>
<circle cx="508.90" cy="474.80" r="2.90" fill="#00ee00" fill-opacity="0.56"/>
<circle cx="555.10" cy="490.40" r="2.90" fill="#00ee00" fill-opacity="0.56"/>
<circle cx="625.60" cy="512.60" r="2.90" fill="#00ee00" fill-opacity="0.56"/>
<text x="457.00" y="490.19" font-size="9.0" text-anchor="middle" fill="#111" textLength="49.10" lengthAdjust="spacingAndGlyphs" transform="rotate(-90 457.00 487.00)" stroke="#111" stroke-width="0.15">Tertiary_DG</text>
<text x="550.50" y="574.23" font-size="9.1" text-anchor="middle" fill="#111" textLength="118.80" lengthAdjust="spacingAndGlyphs" stroke="#111" stroke-width="0.15">Lachnospiraceae_NA_NA.14</text>
<text x="634.60" y="448.69" font-size="9.0" fill="#111" stroke="#111" stroke-width="0.15">Groups</text>
<circle cx="639.60" cy="457.20" r="3.50" fill="#00ee00" fill-opacity="0.56"/>
<text x="651.70" y="460.13" font-size="7.4" fill="#222" stroke="#222" stroke-width="0.15">3xTg_C</text>
<circle cx="639.60" cy="471.70" r="3.50" fill="#ee0000" fill-opacity="0.56"/>
<text x="651.70" y="474.63" font-size="7.4" fill="#222" stroke="#222" stroke-width="0.15">3xTg_K</text>
<line x1="474.88" y1="595.70" x2="474.88" y2="950.70" stroke="#ebebeb" stroke-width="0.55"/>
<line x1="510.62" y1="595.70" x2="510.62" y2="950.70" stroke="#ebebeb" stroke-width="0.55"/>
<line x1="546.38" y1="595.70" x2="546.38" y2="950.70" stroke="#ebebeb" stroke-width="0.55"/>
<line x1="582.12" y1="595.70" x2="582.12" y2="950.70" stroke="#ebebeb" stroke-width="0.55"/>
<line x1="457.00" y1="595.70" x2="457.00" y2="950.70" stroke="#ebebeb" stroke-width="1.0"/>
<line x1="492.75" y1="595.70" x2="492.75" y2="950.70" stroke="#ebebeb" stroke-width="1.0"/>
<line x1="528.50" y1="595.70" x2="528.50" y2="950.70" stroke="#ebebeb" stroke-width="1.0"/>
<line x1="564.25" y1="595.70" x2="564.25" y2="950.70" stroke="#ebebeb" stroke-width="1.0"/>
<line x1="600.00" y1="595.70" x2="600.00" y2="950.70" stroke="#ebebeb" stroke-width="1.0"/>
<line x1="446.50" y1="602.20" x2="600.80" y2="602.20" stroke="#ebebeb" stroke-width="1.0"/>
<line x1="446.50" y1="612.59" x2="600.80" y2="612.59" stroke="#ebebeb" stroke-width="1.0"/>
<line x1="446.50" y1="622.98" x2="600.80" y2="622.98" stroke="#ebebeb" stroke-width="1.0"/>
<line x1="446.50" y1="633.37" x2="600.80" y2="633.37" stroke="#ebebeb" stroke-width="1.0"/>
<line x1="446.50" y1="643.76" x2="600.80" y2="643.76" stroke="#ebebeb" stroke-width="1.0"/>
<line x1="446.50" y1="654.15" x2="600.80" y2="654.15" stroke="#ebebeb" stroke-width="1.0"/>
<line x1="446.50" y1="664.54" x2="600.80" y2="664.54" stroke="#ebebeb" stroke-width="1.0"/>
<line x1="446.50" y1="674.93" x2="600.80" y2="674.93" stroke="#ebebeb" stroke-width="1.0"/>
<line x1="446.50" y1="685.32" x2="600.80" y2="685.32" stroke="#ebebeb" stroke-width="1.0"/>
<line x1="446.50" y1="695.71" x2="600.80" y2="695.71" stroke="#ebebeb" stroke-width="1.0"/>
<line x1="446.50" y1="706.10" x2="600.80" y2="706.10" stroke="#ebebeb" stroke-width="1.0"/>
<line x1="446.50" y1="716.49" x2="600.80" y2="716.49" stroke="#ebebeb" stroke-width="1.0"/>
<line x1="446.50" y1="726.88" x2="600.80" y2="726.88" stroke="#ebebeb" stroke-width="1.0"/>
<line x1="446.50" y1="737.27" x2="600.80" y2="737.27" stroke="#ebebeb" stroke-width="1.0"/>
<line x1="446.50" y1="747.66" x2="600.80" y2="747.66" stroke="#ebebeb" stroke-width="1.0"/>
<line x1="446.50" y1="758.05" x2="600.80" y2="758.05" stroke="#ebebeb" stroke-width="1.0"/>
<line x1="446.50" y1="768.44" x2="600.80" y2="768.44" stroke="#ebebeb" stroke-width="1.0"/>
<line x1="446.50" y1="778.83" x2="600.80" y2="778.83" stroke="#ebebeb" stroke-width="1.0"/>
<line x1="446.50" y1="789.22" x2="600.80" y2="789.22" stroke="#ebebeb" stroke-width="1.0"/>
<line x1="446.50" y1="799.61" x2="600.80" y2="799.61" stroke="#ebebeb" stroke-width="1.0"/>
<line x1="446.50" y1="810.00" x2="600.80" y2="810.00" stroke="#ebebeb" stroke-width="1.0"/>
<line x1="446.50" y1="820.39" x2="600.80" y2="820.39" stroke="#ebebeb" stroke-width="1.0"/>
<line x1="446.50" y1="830.78" x2="600.80" y2="830.78" stroke="#ebebeb" stroke-width="1.0"/>
<line x1="446.50" y1="841.17" x2="600.80" y2="841.17" stroke="#ebebeb" stroke-width="1.0"/>
<line x1="446.50" y1="851.56" x2="600.80" y2="851.56" stroke="#ebebeb" stroke-width="1.0"/>
<line x1="446.50" y1="861.95" x2="600.80" y2="861.95" stroke="#ebebeb" stroke-width="1.0"/>
<line x1="446.50" y1="872.34" x2="600.80" y2="872.34" stroke="#ebebeb" stroke-width="1.0"/>
<line x1="446.50" y1="882.73" x2="600.80" y2="882.73" stroke="#ebebeb" stroke-width="1.0"/>
<line x1="446.50" y1="893.12" x2="600.80" y2="893.12" stroke="#ebebeb" stroke-width="1.0"/>
<line x1="446.50" y1="903.51" x2="600.80" y2="903.51" stroke="#ebebeb" stroke-width="1.0"/>
<line x1="446.50" y1="913.90" x2="600.80" y2="913.90" stroke="#ebebeb" stroke-width="1.0"/>
<line x1="446.50" y1="924.29" x2="600.80" y2="924.29" stroke="#ebebeb" stroke-width="1.0"/>
<line x1="446.50" y1="934.68" x2="600.80" y2="934.68" stroke="#ebebeb" stroke-width="1.0"/>
<line x1="446.50" y1="945.07" x2="600.80" y2="945.07" stroke="#ebebeb" stroke-width="1.0"/>
<text x="444.70" y="605.36" font-size="7.2" text-anchor="end" fill="#4d4d4d" textLength="186.34" lengthAdjust="spacingAndGlyphs">transforming growth factor beta receptor superfamily signaling</text>
<text x="444.70" y="615.75" font-size="7.2" text-anchor="end" fill="#4d4d4d" textLength="89.71" lengthAdjust="spacingAndGlyphs">T cell differentiation in thymus</text>
<text x="444.70" y="626.14" font-size="7.2" text-anchor="end" fill="#4d4d4d" textLength="58.72" lengthAdjust="spacingAndGlyphs">T cell differentiation</text>
<text x="444.70" y="636.53" font-size="7.2" text-anchor="end" fill="#4d4d4d" textLength="46.74" lengthAdjust="spacingAndGlyphs">T cell activation</text>
<text x="444.70" y="646.92" font-size="7.2" text-anchor="end" fill="#4d4d4d" textLength="66.54" lengthAdjust="spacingAndGlyphs">response to wounding</text>
<text x="444.70" y="657.31" font-size="7.2" text-anchor="end" fill="#4d4d4d" textLength="152.14" lengthAdjust="spacingAndGlyphs">response to macrophage colony−stimulating factor</text>
<text x="444.70" y="667.70" font-size="7.2" text-anchor="end" fill="#4d4d4d" textLength="79.00" lengthAdjust="spacingAndGlyphs">response to glucocorticoid</text>
<text x="444.70" y="678.09" font-size="7.2" text-anchor="end" fill="#4d4d4d" textLength="106.21" lengthAdjust="spacingAndGlyphs">response to fibroblast growth factor</text>
<text x="444.70" y="688.48" font-size="7.2" text-anchor="end" fill="#4d4d4d" textLength="90.71" lengthAdjust="spacingAndGlyphs">regulation of viral transcription</text>
<text x="444.70" y="698.87" font-size="7.2" text-anchor="end" fill="#4d4d4d" textLength="77.48" lengthAdjust="spacingAndGlyphs">regulation of viral process</text>
<text x="444.70" y="709.26" font-size="7.2" text-anchor="end" fill="#4d4d4d" textLength="97.91" lengthAdjust="spacingAndGlyphs">regulation of T cell differentiation</text>
<text x="444.70" y="719.65" font-size="7.2" text-anchor="end" fill="#4d4d4d" textLength="117.44" lengthAdjust="spacingAndGlyphs">regulation of myeloid cell differentiation</text>
<text x="444.70" y="730.04" font-size="7.2" text-anchor="end" fill="#4d4d4d" textLength="111.39" lengthAdjust="spacingAndGlyphs">regulation of monocyte differentiation</text>
<text x="444.70" y="740.43" font-size="7.2" text-anchor="end" fill="#4d4d4d" textLength="126.63" lengthAdjust="spacingAndGlyphs">regulation of mast cell cytokine production</text>
<text x="444.70" y="750.82" font-size="7.2" text-anchor="end" fill="#4d4d4d" textLength="116.30" lengthAdjust="spacingAndGlyphs">regulation of lymphocyte differentiation</text>
<text x="444.70" y="761.21" font-size="7.2" text-anchor="end" fill="#4d4d4d" textLength="110.64" lengthAdjust="spacingAndGlyphs">regulation of leukocyte differentiation</text>
<text x="444.70" y="771.60" font-size="7.2" text-anchor="end" fill="#4d4d4d" textLength="171.60" lengthAdjust="spacingAndGlyphs">regulation of inflammatory response to antigenic stimulus</text>
<text x="444.70" y="781.99" font-size="7.2" text-anchor="end" fill="#4d4d4d" textLength="154.40" lengthAdjust="spacingAndGlyphs">receptor−mediated endocytosis of virus by host cell</text>
<text x="444.70" y="792.38" font-size="7.2" text-anchor="end" fill="#4d4d4d" textLength="115.66" lengthAdjust="spacingAndGlyphs">positive regulation of viral transcription</text>
<text x="444.70" y="802.77" font-size="7.2" text-anchor="end" fill="#4d4d4d" textLength="142.38" lengthAdjust="spacingAndGlyphs">positive regulation of myeloid cell differentiation</text>
<text x="444.70" y="813.16" font-size="7.2" text-anchor="end" fill="#4d4d4d" textLength="135.58" lengthAdjust="spacingAndGlyphs">positive regulation of leukocyte differentiation</text>
<text x="444.70" y="823.55" font-size="7.2" text-anchor="end" fill="#4d4d4d" textLength="69.93" lengthAdjust="spacingAndGlyphs">neutrophil homeostasis</text>
<text x="444.70" y="833.94" font-size="7.2" text-anchor="end" fill="#4d4d4d" textLength="61.24" lengthAdjust="spacingAndGlyphs">neutrophil clearance</text>
<text x="444.70" y="844.33" font-size="7.2" text-anchor="end" fill="#4d4d4d" textLength="96.64" lengthAdjust="spacingAndGlyphs">myeloid leukocyte differentiation</text>
<text x="444.70" y="854.72" font-size="7.2" text-anchor="end" fill="#4d4d4d" textLength="78.12" lengthAdjust="spacingAndGlyphs">myeloid cell differentiation</text>
<text x="444.70" y="865.11" font-size="7.2" text-anchor="end" fill="#4d4d4d" textLength="94.00" lengthAdjust="spacingAndGlyphs">mononuclear cell differentiation</text>
<text x="444.70" y="875.50" font-size="7.2" text-anchor="end" fill="#4d4d4d" textLength="72.08" lengthAdjust="spacingAndGlyphs">monocyte differentiation</text>
<text x="444.70" y="885.89" font-size="7.2" text-anchor="end" fill="#4d4d4d" textLength="170.67" lengthAdjust="spacingAndGlyphs">macrophage colony−stimulating factor signaling pathway</text>
<text x="444.70" y="896.28" font-size="7.2" text-anchor="end" fill="#4d4d4d" textLength="76.99" lengthAdjust="spacingAndGlyphs">lymphocyte differentiation</text>
<text x="444.70" y="906.67" font-size="7.2" text-anchor="end" fill="#4d4d4d" textLength="54.05" lengthAdjust="spacingAndGlyphs">glial cell migration</text>
<text x="444.70" y="917.06" font-size="7.2" text-anchor="end" fill="#4d4d4d" textLength="140.98" lengthAdjust="spacingAndGlyphs">endocytosis involved in viral entry into host cell</text>
<text x="444.70" y="927.45" font-size="7.2" text-anchor="end" fill="#4d4d4d" textLength="202.40" lengthAdjust="spacingAndGlyphs">cellular response to macrophage colony−stimulating factor stimulus</text>
<text x="444.70" y="937.84" font-size="7.2" text-anchor="end" fill="#4d4d4d" textLength="71.07" lengthAdjust="spacingAndGlyphs">apoptotic cell clearance</text>
<text x="444.70" y="948.23" font-size="7.2" text-anchor="end" fill="#4d4d4d" textLength="90.15" lengthAdjust="spacingAndGlyphs">ameboidal−type cell migration</text>
<line x1="457.00" y1="950.70" x2="457.00" y2="953.00" stroke="#bbbbbb" stroke-width="0.8"/>
<text x="457.00" y="959.69" font-size="7.0" text-anchor="middle" fill="#4d4d4d">−2</text>
<line x1="492.75" y1="950.70" x2="492.75" y2="953.00" stroke="#bbbbbb" stroke-width="0.8"/>
<text x="492.75" y="959.69" font-size="7.0" text-anchor="middle" fill="#4d4d4d">−1</text>
<line x1="528.50" y1="950.70" x2="528.50" y2="953.00" stroke="#bbbbbb" stroke-width="0.8"/>
<text x="528.50" y="959.69" font-size="7.0" text-anchor="middle" fill="#4d4d4d">0</text>
<line x1="564.25" y1="950.70" x2="564.25" y2="953.00" stroke="#bbbbbb" stroke-width="0.8"/>
<text x="564.25" y="959.69" font-size="7.0" text-anchor="middle" fill="#4d4d4d">1</text>
<line x1="600.00" y1="950.70" x2="600.00" y2="953.00" stroke="#bbbbbb" stroke-width="0.8"/>
<text x="600.00" y="959.69" font-size="7.0" text-anchor="middle" fill="#4d4d4d">2</text>
<text x="523.60" y="970.07" font-size="8.66" text-anchor="middle" fill="#111" textLength="141.10" lengthAdjust="spacingAndGlyphs" stroke="#111" stroke-width="0.15">Normalized Enrichment Score (NES)</text>
<text x="247.30" y="765.14" font-size="12.8" text-anchor="middle" font-weight="bold" textLength="226.70" lengthAdjust="spacingAndGlyphs" transform="rotate(-90 247.30 760.60)">Hippocampal inflammatory pathways</text>
<circle cx="467.60" cy="602.20" r="5.40" fill="#00ee00" fill-opacity="0.56"/>
<circle cx="463.60" cy="612.59" r="4.50" fill="#00ee00" fill-opacity="0.56"/>
<circle cx="468.00" cy="622.98" r="5.20" fill="#00ee00" fill-opacity="0.56"/>
<circle cx="481.30" cy="633.37" r="3.70" fill="#00ee00" fill-opacity="0.56"/>
<circle cx="481.50" cy="643.76" r="3.70" fill="#00ee00" fill-opacity="0.56"/>
<circle cx="464.20" cy="654.15" r="4.00" fill="#00ee00" fill-opacity="0.56"/>
<circle cx="475.50" cy="664.54" r="3.70" fill="#00ee00" fill-opacity="0.56"/>
<circle cx="464.50" cy="674.93" r="5.00" fill="#00ee00" fill-opacity="0.56"/>
<circle cx="464.50" cy="685.32" r="4.00" fill="#00ee00" fill-opacity="0.56"/>
<circle cx="475.80" cy="695.71" r="3.80" fill="#00ee00" fill-opacity="0.56"/>
<circle cx="475.80" cy="706.10" r="4.00" fill="#00ee00" fill-opacity="0.56"/>
<circle cx="477.30" cy="716.49" r="3.80" fill="#00ee00" fill-opacity="0.56"/>
<circle cx="454.50" cy="726.88" r="5.00" fill="#00ee00" fill-opacity="0.56"/>
<circle cx="466.00" cy="737.27" r="4.30" fill="#00ee00" fill-opacity="0.56"/>
<circle cx="475.70" cy="747.66" r="4.30" fill="#00ee00" fill-opacity="0.56"/>
<circle cx="475.00" cy="758.05" r="4.30" fill="#00ee00" fill-opacity="0.56"/>
<circle cx="594.00" cy="768.44" r="4.30" fill="#00ee00" fill-opacity="0.56"/>
<circle cx="590.50" cy="778.83" r="4.30" fill="#00ee00" fill-opacity="0.56"/>
<circle cx="467.10" cy="789.22" r="4.30" fill="#00ee00" fill-opacity="0.56"/>
<circle cx="474.40" cy="799.61" r="4.00" fill="#00ee00" fill-opacity="0.56"/>
<circle cx="475.70" cy="810.00" r="4.20" fill="#00ee00" fill-opacity="0.56"/>
<circle cx="469.00" cy="820.39" r="4.00" fill="#00ee00" fill-opacity="0.56"/>
<circle cx="469.00" cy="830.78" r="4.00" fill="#00ee00" fill-opacity="0.56"/>
<circle cx="476.80" cy="841.17" r="4.10" fill="#00ee00" fill-opacity="0.56"/>
<circle cx="478.10" cy="851.56" r="4.30" fill="#00ee00" fill-opacity="0.56"/>
<circle cx="470.20" cy="861.95" r="5.20" fill="#00ee00" fill-opacity="0.56"/>
<circle cx="454.10" cy="872.34" r="5.20" fill="#00ee00" fill-opacity="0.56"/>
<circle cx="463.10" cy="882.73" r="4.30" fill="#00ee00" fill-opacity="0.56"/>
<circle cx="469.70" cy="893.12" r="5.20" fill="#00ee00" fill-opacity="0.56"/>
<circle cx="465.40" cy="903.51" r="4.10" fill="#00ee00" fill-opacity="0.56"/>
<circle cx="590.80" cy="913.90" r="4.10" fill="#00ee00" fill-opacity="0.56"/>
<circle cx="463.60" cy="924.29" r="4.10" fill="#00ee00" fill-opacity="0.56"/>
<circle cx="466.30" cy="934.68" r="4.10" fill="#00ee00" fill-opacity="0.56"/>
<circle cx="468.40" cy="945.07" r="4.80" fill="#00ee00" fill-opacity="0.56"/>
<circle cx="466.90" cy="602.20" r="5.30" fill="#ee0000" fill-opacity="0.56"/>
<circle cx="479.90" cy="612.59" r="3.20" fill="#ee0000" fill-opacity="0.56"/>
<circle cx="479.10" cy="622.98" r="3.50" fill="#ee0000" fill-opacity="0.56"/>
<circle cx="488.10" cy="633.37" r="3.20" fill="#ee0000" fill-opacity="0.56"/>
<circle cx="475.20" cy="643.76" r="4.30" fill="#ee0000" fill-opacity="0.56"/>
<circle cx="470.40" cy="654.15" r="3.50" fill="#ee0000" fill-opacity="0.56"/>
<circle cx="480.20" cy="664.54" r="3.30" fill="#ee0000" fill-opacity="0.56"/>
<circle cx="474.90" cy="674.93" r="3.70" fill="#ee0000" fill-opacity="0.56"/>
<circle cx="480.00" cy="685.32" r="3.10" fill="#ee0000" fill-opacity="0.56"/>
<circle cx="499.20" cy="695.71" r="2.50" fill="#ee0000" fill-opacity="0.56"/>
<circle cx="483.60" cy="706.10" r="3.20" fill="#ee0000" fill-opacity="0.56"/>
<circle cx="483.00" cy="716.49" r="3.40" fill="#ee0000" fill-opacity="0.56"/>
<circle cx="487.80" cy="726.88" r="2.90" fill="#ee0000" fill-opacity="0.56"/>
<circle cx="497.30" cy="737.27" r="2.60" fill="#ee0000" fill-opacity="0.56"/>
<circle cx="484.00" cy="747.66" r="3.10" fill="#ee0000" fill-opacity="0.56"/>
<circle cx="480.20" cy="758.05" r="3.90" fill="#ee0000" fill-opacity="0.56"/>
<circle cx="569.50" cy="768.44" r="2.90" fill="#ee0000" fill-opacity="0.56"/>
<circle cx="570.60" cy="778.83" r="2.90" fill="#ee0000" fill-opacity="0.56"/>
<circle cx="479.90" cy="789.22" r="3.20" fill="#ee0000" fill-opacity="0.56"/>
<circle cx="488.60" cy="799.61" r="2.90" fill="#ee0000" fill-opacity="0.56"/>
<circle cx="483.60" cy="810.00" r="3.40" fill="#ee0000" fill-opacity="0.56"/>
<circle cx="484.10" cy="820.39" r="3.00" fill="#ee0000" fill-opacity="0.56"/>
<circle cx="505.50" cy="830.78" r="2.50" fill="#ee0000" fill-opacity="0.56"/>
<circle cx="479.20" cy="841.17" r="3.70" fill="#ee0000" fill-opacity="0.56"/>
<circle cx="483.80" cy="851.56" r="3.40" fill="#ee0000" fill-opacity="0.56"/>
<circle cx="479.90" cy="861.95" r="4.00" fill="#ee0000" fill-opacity="0.56"/>
<circle cx="482.30" cy="872.34" r="3.20" fill="#ee0000" fill-opacity="0.56"/>
<circle cx="470.70" cy="882.73" r="3.70" fill="#ee0000" fill-opacity="0.56"/>
<circle cx="480.20" cy="893.12" r="3.70" fill="#ee0000" fill-opacity="0.56"/>
<circle cx="468.40" cy="903.51" r="3.90" fill="#ee0000" fill-opacity="0.56"/>
<circle cx="566.60" cy="913.90" r="2.80" fill="#ee0000" fill-opacity="0.56"/>
<circle cx="470.70" cy="924.29" r="3.70" fill="#ee0000" fill-opacity="0.56"/>
<circle cx="492.50" cy="934.68" r="2.60" fill="#ee0000" fill-opacity="0.56"/>
<circle cx="467.90" cy="945.07" r="4.80" fill="#ee0000" fill-opacity="0.56"/>
<circle cx="488.10" cy="602.20" r="2.60" fill="#00eeee" fill-opacity="0.56"/>
<circle cx="485.50" cy="612.59" r="2.80" fill="#00eeee" fill-opacity="0.56"/>
<circle cx="483.30" cy="622.98" r="2.80" fill="#00eeee" fill-opacity="0.56"/>
<circle cx="570.60" cy="633.37" r="2.80" fill="#00eeee" fill-opacity="0.56"/>
<circle cx="484.20" cy="643.76" r="2.60" fill="#00eeee" fill-opacity="0.56"/>
<circle cx="477.30" cy="654.15" r="2.70" fill="#00eeee" fill-opacity="0.56"/>
<circle cx="492.30" cy="664.54" r="2.60" fill="#00eeee" fill-opacity="0.56"/>
<circle cx="483.10" cy="674.93" r="2.80" fill="#00eeee" fill-opacity="0.56"/>
<circle cx="492.30" cy="685.32" r="2.60" fill="#00eeee" fill-opacity="0.56"/>
<circle cx="495.20" cy="695.71" r="2.60" fill="#00eeee" fill-opacity="0.56"/>
<circle cx="489.60" cy="706.10" r="2.60" fill="#00eeee" fill-opacity="0.56"/>
<circle cx="496.80" cy="716.49" r="2.30" fill="#00eeee" fill-opacity="0.56"/>
<circle cx="492.50" cy="726.88" r="2.60" fill="#00eeee" fill-opacity="0.56"/>
<circle cx="477.60" cy="737.27" r="2.70" fill="#00eeee" fill-opacity="0.56"/>
<circle cx="487.30" cy="747.66" r="2.60" fill="#00eeee" fill-opacity="0.56"/>
<circle cx="489.10" cy="758.05" r="2.60" fill="#00eeee" fill-opacity="0.56"/>
<circle cx="576.00" cy="768.44" r="2.90" fill="#00eeee" fill-opacity="0.56"/>
<circle cx="572.40" cy="778.83" r="2.60" fill="#00eeee" fill-opacity="0.56"/>
<circle cx="474.40" cy="789.22" r="2.60" fill="#00eeee" fill-opacity="0.56"/>
<circle cx="493.60" cy="799.61" r="2.50" fill="#00eeee" fill-opacity="0.56"/>
<circle cx="490.40" cy="810.00" r="2.60" fill="#00eeee" fill-opacity="0.56"/>
<circle cx="484.10" cy="820.39" r="2.90" fill="#00eeee" fill-opacity="0.56"/>
<circle cx="481.10" cy="830.78" r="2.60" fill="#00eeee" fill-opacity="0.56"/>
<circle cx="492.50" cy="841.17" r="2.60" fill="#00eeee" fill-opacity="0.56"/>
<circle cx="494.70" cy="851.56" r="2.40" fill="#00eeee" fill-opacity="0.56"/>
<circle cx="486.80" cy="861.95" r="2.60" fill="#00eeee" fill-opacity="0.56"/>
<circle cx="489.30" cy="872.34" r="2.60" fill="#00eeee" fill-opacity="0.56"/>
<circle cx="477.30" cy="882.73" r="2.60" fill="#00eeee" fill-opacity="0.56"/>
<circle cx="485.50" cy="893.12" r="2.60" fill="#00eeee" fill-opacity="0.56"/>
<circle cx="483.60" cy="903.51" r="2.60" fill="#00eeee" fill-opacity="0.56"/>
<circle cx="561.90" cy="913.90" r="2.40" fill="#00eeee" fill-opacity="0.56"/>
<circle cx="477.30" cy="924.29" r="2.60" fill="#00eeee" fill-opacity="0.56"/>
<circle cx="477.10" cy="934.68" r="2.60" fill="#00eeee" fill-opacity="0.56"/>
<circle cx="473.10" cy="945.07" r="2.60" fill="#00eeee" fill-opacity="0.56"/>
<text x="604.60" y="604.43" font-size="9.37" fill="#111" textLength="55.20" lengthAdjust="spacingAndGlyphs" stroke="#111" stroke-width="0.15">Comparisons</text>
<circle cx="614.30" cy="616.20" r="5.90" fill="#00ee00" fill-opacity="0.56"/>
<text x="622.50" y="618.99" font-size="7.87" fill="#111" stroke="#111" stroke-width="0.15">WT_Cvs3xTg_C</text>
<circle cx="614.30" cy="630.60" r="5.90" fill="#ee0000" fill-opacity="0.56"/>
<text x="622.50" y="633.39" font-size="7.87" fill="#111" stroke="#111" stroke-width="0.15">WT_Cvs3xTg_K</text>
<circle cx="614.30" cy="645.10" r="5.90" fill="#00eeee" fill-opacity="0.56"/>
<text x="622.50" y="647.89" font-size="7.87" fill="#111" stroke="#111" stroke-width="0.15">WT_Cvs3xTg_M</text>
<text x="604.60" y="675.93" font-size="9.37" fill="#111" textLength="53.70" lengthAdjust="spacingAndGlyphs" stroke="#111" stroke-width="0.15">−log10(FDR)</text>
<circle cx="610.90" cy="687.30" r="3.90" fill="#000" fill-opacity="0.5"/>
<text x="622.80" y="689.96" font-size="7.5" fill="#111" stroke="#111" stroke-width="0.15">1</text>
<circle cx="610.90" cy="700.80" r="4.60" fill="#000" fill-opacity="0.5"/>
<text x="622.80" y="703.46" font-size="7.5" fill="#111" stroke="#111" stroke-width="0.15">2</text>
<circle cx="610.90" cy="714.30" r="5.20" fill="#000" fill-opacity="0.5"/>
<text x="622.80" y="716.96" font-size="7.5" fill="#111" stroke="#111" stroke-width="0.15">3</text>
<circle cx="610.90" cy="728.20" r="5.80" fill="#000" fill-opacity="0.5"/>
<text x="622.80" y="730.86" font-size="7.5" fill="#111" stroke="#111" stroke-width="0.15">4</text>
</svg>
</body></html>
